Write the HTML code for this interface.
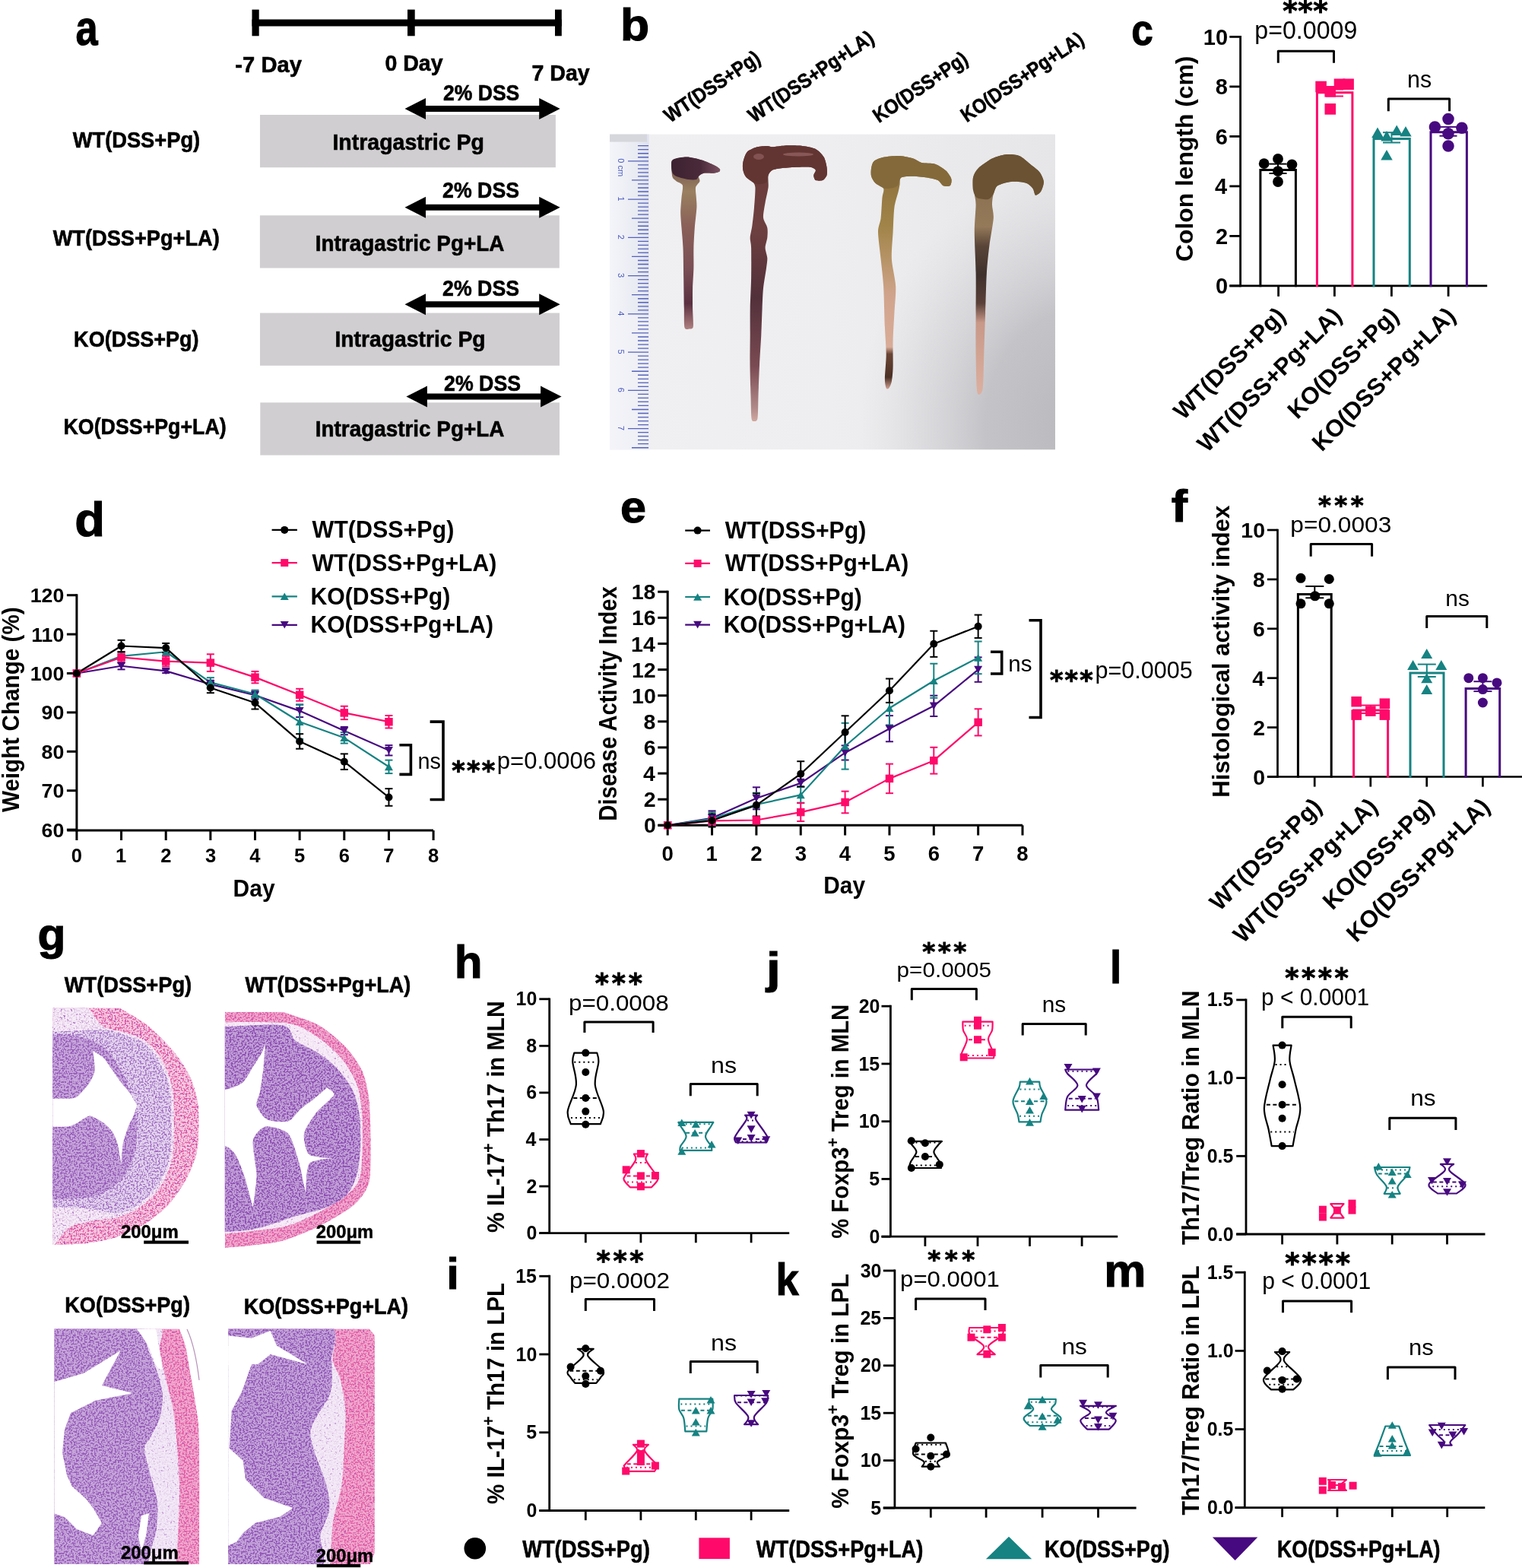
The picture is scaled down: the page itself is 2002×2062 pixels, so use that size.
<!DOCTYPE html>
<html><head><meta charset="utf-8"><title>Figure</title>
<style>html,body{margin:0;padding:0;background:#fff;}svg{display:block;}
text{font-family:'Liberation Sans', Arial, sans-serif;}</style></head>
<body><svg width="2002" height="2062" viewBox="0 0 2002 2062">
<rect width="2002" height="2062" fill="#fff"/>
<text x="99.48" y="58.85" font-size="64.78" font-weight="bold" fill="#000" textLength="29.16" lengthAdjust="spacingAndGlyphs" stroke="#000" stroke-width="1.1">a</text>
<rect x="331.5" y="25.5" width="407.3" height="9" fill="#000"/>
<rect x="331.5" y="12.6" width="9.2" height="34.7" fill="#000"/>
<rect x="536" y="12.6" width="9.7" height="34.7" fill="#000"/>
<rect x="730" y="12.6" width="8.8" height="34.7" fill="#000"/>
<text x="309.36" y="94.6" font-size="30.09" font-weight="bold" fill="#000" textLength="87.5" lengthAdjust="spacingAndGlyphs" stroke="#000" stroke-width="0.6">-7 Day</text>
<text x="506.49" y="93.3" font-size="30.09" font-weight="bold" fill="#000" textLength="76.07" lengthAdjust="spacingAndGlyphs" stroke="#000" stroke-width="0.6">0 Day</text>
<text x="699.5" y="106.4" font-size="30.09" font-weight="bold" fill="#000" textLength="76.26" lengthAdjust="spacingAndGlyphs" stroke="#000" stroke-width="0.6">7 Day</text>
<rect x="342" y="151" width="388.9" height="69.2" fill="#d0ced0"/>
<rect x="341.9" y="283.3" width="393.9" height="69.2" fill="#d0ced0"/>
<rect x="342" y="411.6" width="394" height="69.2" fill="#d0ced0"/>
<rect x="342.3" y="529.4" width="393.7" height="69.2" fill="#d0ced0"/>
<text x="95.77" y="194.4" font-size="30.09" font-weight="bold" fill="#000" textLength="167.36" lengthAdjust="spacingAndGlyphs" stroke="#000" stroke-width="0.6">WT(DSS+Pg)</text>
<text x="69.67" y="322.5" font-size="30.09" font-weight="bold" fill="#000" textLength="219.15" lengthAdjust="spacingAndGlyphs" stroke="#000" stroke-width="0.6">WT(DSS+Pg+LA)</text>
<text x="97.12" y="456.3" font-size="30.09" font-weight="bold" fill="#000" textLength="164.51" lengthAdjust="spacingAndGlyphs" stroke="#000" stroke-width="0.6">KO(DSS+Pg)</text>
<text x="83.53" y="571.4" font-size="30.09" font-weight="bold" fill="#000" textLength="214.18" lengthAdjust="spacingAndGlyphs" stroke="#000" stroke-width="0.6">KO(DSS+Pg+LA)</text>
<text x="437.42" y="197" font-size="30.09" font-weight="bold" fill="#000" textLength="199.49" lengthAdjust="spacingAndGlyphs" stroke="#000" stroke-width="0.6">Intragastric Pg</text>
<text x="414.76" y="330.3" font-size="30.09" font-weight="bold" fill="#000" textLength="248.66" lengthAdjust="spacingAndGlyphs" stroke="#000" stroke-width="0.6">Intragastric Pg+LA</text>
<text x="440.43" y="456.3" font-size="30.09" font-weight="bold" fill="#000" textLength="198.16" lengthAdjust="spacingAndGlyphs" stroke="#000" stroke-width="0.6">Intragastric Pg</text>
<text x="414.76" y="574" font-size="30.09" font-weight="bold" fill="#000" textLength="248.66" lengthAdjust="spacingAndGlyphs" stroke="#000" stroke-width="0.6">Intragastric Pg+LA</text>
<text x="582.9" y="132.2" font-size="30.09" font-weight="bold" fill="#000" textLength="100.45" lengthAdjust="spacingAndGlyphs" stroke="#000" stroke-width="0.6">2% DSS</text>
<text x="582.09" y="260.3" font-size="30.09" font-weight="bold" fill="#000" textLength="100.96" lengthAdjust="spacingAndGlyphs" stroke="#000" stroke-width="0.6">2% DSS</text>
<text x="582.09" y="388.7" font-size="30.09" font-weight="bold" fill="#000" textLength="100.96" lengthAdjust="spacingAndGlyphs" stroke="#000" stroke-width="0.6">2% DSS</text>
<text x="584.09" y="513.9" font-size="30.09" font-weight="bold" fill="#000" textLength="100.96" lengthAdjust="spacingAndGlyphs" stroke="#000" stroke-width="0.6">2% DSS</text>
<polygon points="532.5,143 560,129 560,139 709.2,139 709.2,129 736.7,143 709.2,157 709.2,147 560,147 560,157" fill="#000"/>
<polygon points="532.5,272.8 560,258.8 560,268.8 709.2,268.8 709.2,258.8 736.7,272.8 709.2,286.8 709.2,276.8 560,276.8 560,286.8" fill="#000"/>
<polygon points="532.5,400.3 560,386.3 560,396.3 709.2,396.3 709.2,386.3 736.7,400.3 709.2,414.3 709.2,404.3 560,404.3 560,414.3" fill="#000"/>
<polygon points="534.4,521.6 561.9,507.6 561.9,517.6 711.1,517.6 711.1,507.6 738.6,521.6 711.1,535.6 711.1,525.6 561.9,525.6 561.9,535.6" fill="#000"/>
<text x="815.95" y="52.91" font-size="59.18" font-weight="bold" fill="#000" textLength="38.1" lengthAdjust="spacingAndGlyphs" stroke="#000" stroke-width="1.1">b</text>
<text x="881.18" y="162" font-size="26.7" font-weight="bold" fill="#000" textLength="145.78" lengthAdjust="spacingAndGlyphs" transform="rotate(-34 881.2 162)" stroke="#000" stroke-width="0.6">WT(DSS+Pg)</text>
<text x="991.78" y="162" font-size="26.7" font-weight="bold" fill="#000" textLength="192.69" lengthAdjust="spacingAndGlyphs" transform="rotate(-34 991.8 162)" stroke="#000" stroke-width="0.6">WT(DSS+Pg+LA)</text>
<text x="1155.64" y="161.4" font-size="26.7" font-weight="bold" fill="#000" textLength="143.72" lengthAdjust="spacingAndGlyphs" transform="rotate(-34 1157.2 161.4)" stroke="#000" stroke-width="0.6">KO(DSS+Pg)</text>
<text x="1271.35" y="160.6" font-size="26.7" font-weight="bold" fill="#000" textLength="188.21" lengthAdjust="spacingAndGlyphs" transform="rotate(-34 1272.9 160.6)" stroke="#000" stroke-width="0.6">KO(DSS+Pg+LA)</text>
<defs>
<linearGradient id="pbg" x1="0" y1="0" x2="1" y2="0">
<stop offset="0" stop-color="#f0f0f2"/><stop offset="0.5" stop-color="#eeeef0"/><stop offset="1" stop-color="#e6e6e9"/></linearGradient>
<radialGradient id="pdark" cx="1430" cy="560" r="300" gradientUnits="userSpaceOnUse" gradientTransform="translate(1430 560) scale(1.0 1.15) translate(-1430 -560)">
<stop offset="0" stop-color="#b8b8bc" stop-opacity="1"/><stop offset="0.45" stop-color="#c2c2c6" stop-opacity="0.95"/><stop offset="0.75" stop-color="#d0d0d4" stop-opacity="0.5"/><stop offset="1" stop-color="#dcdce0" stop-opacity="0"/></radialGradient>
<linearGradient id="ruler" x1="0" y1="0" x2="1" y2="0">
<stop offset="0" stop-color="#f4f5f9"/><stop offset="0.7" stop-color="#e9ebf3"/><stop offset="1" stop-color="#dfe2ee"/></linearGradient>
<linearGradient id="c1h" x1="0" y1="0" x2="1" y2="0"><stop offset="0" stop-color="#3d2230"/><stop offset="0.6" stop-color="#4a2a3a"/><stop offset="1" stop-color="#7a5060"/></linearGradient>
<linearGradient id="c1s" x1="0" y1="0" x2="0" y2="1"><stop offset="0" stop-color="#6a4a4a"/><stop offset="0.2" stop-color="#9a8060"/><stop offset="0.4" stop-color="#8a6058"/><stop offset="0.65" stop-color="#7a4e55"/><stop offset="0.85" stop-color="#5a3040"/><stop offset="1" stop-color="#b08080"/></linearGradient>
<linearGradient id="c2s" x1="0" y1="0" x2="0" y2="1"><stop offset="0" stop-color="#6a3a38"/><stop offset="0.3" stop-color="#6e4040"/><stop offset="0.55" stop-color="#52303a"/><stop offset="0.8" stop-color="#7a4a52"/><stop offset="0.95" stop-color="#b08888"/><stop offset="1" stop-color="#d0a8a0"/></linearGradient>
<linearGradient id="c3s" x1="0" y1="0" x2="0" y2="1"><stop offset="0" stop-color="#8a6c3a"/><stop offset="0.3" stop-color="#a08448"/><stop offset="0.45" stop-color="#b89468"/><stop offset="0.6" stop-color="#d0a48c"/><stop offset="0.82" stop-color="#d8ac98"/><stop offset="0.85" stop-color="#6a4535"/><stop offset="0.95" stop-color="#4a3025"/><stop offset="1" stop-color="#d0a090"/></linearGradient>
<linearGradient id="c4s" x1="0" y1="0" x2="0" y2="1"><stop offset="0" stop-color="#6a5232"/><stop offset="0.12" stop-color="#8a7050"/><stop offset="0.3" stop-color="#957a5a"/><stop offset="0.38" stop-color="#5a4538"/><stop offset="0.5" stop-color="#3e302c"/><stop offset="0.62" stop-color="#5a4038"/><stop offset="0.7" stop-color="#c89888"/><stop offset="1" stop-color="#dcb0a0"/></linearGradient>
</defs>
<rect x="802" y="176.6" width="586" height="414.6" fill="url(#pbg)"/>
<rect x="802" y="176.6" width="586" height="414.6" fill="url(#pdark)"/>
<rect x="802" y="176.6" width="51.6" height="414.6" fill="url(#ruler)"/>
<rect x="802" y="176.6" width="49" height="10" fill="#d6d7dc"/>
<rect x="802" y="415" width="51.6" height="176.2" fill="#f3f4f8" opacity="0.6"/>
<path d="M839 191.7H853M839 196.72H853M839 201.75H853M839 206.77H853M826 211.8H853M839 216.83H853M839 221.85H853M839 226.88H853M839 231.9H853M831 236.93H853M839 241.96H853M839 246.98H853M839 252.01H853M839 257.03H853M826 262.06H853M839 267.09H853M839 272.11H853M839 277.14H853M839 282.16H853M831 287.19H853M839 292.22H853M839 297.24H853M839 302.27H853M839 307.29H853M826 312.32H853M839 317.35H853M839 322.37H853M839 327.4H853M839 332.42H853M831 337.45H853M839 342.48H853M839 347.5H853M839 352.53H853M839 357.55H853M826 362.58H853M839 367.61H853M839 372.63H853M839 377.66H853M839 382.68H853M831 387.71H853M839 392.74H853M839 397.76H853M839 402.79H853M839 407.81H853M826 412.84H853M839 417.87H853M839 422.89H853M839 427.92H853M839 432.94H853M831 437.97H853M839 443H853M839 448.02H853M839 453.05H853M839 458.07H853M826 463.1H853M839 468.13H853M839 473.15H853M839 478.18H853M839 483.2H853M831 488.23H853M839 493.26H853M839 498.28H853M839 503.31H853M839 508.33H853M826 513.36H853M839 518.39H853M839 523.41H853M839 528.44H853M839 533.46H853M831 538.49H853M839 543.52H853M839 548.54H853M839 553.57H853M839 558.59H853M826 563.62H853M839 568.65H853M839 573.67H853M839 578.7H853M839 583.72H853M831 588.75H853" fill="none" stroke="#3a4ab0" stroke-width="1.3" opacity="0.85"/>
<text x="0" y="0" font-size="11" font-weight="normal" fill="#4a5ac0" transform="translate(813 208.3) rotate(90)">0 cm</text>
<text x="0" y="0" font-size="11" font-weight="normal" fill="#4a5ac0" transform="translate(813 258.56) rotate(90)">1</text>
<text x="0" y="0" font-size="11" font-weight="normal" fill="#4a5ac0" transform="translate(813 308.82) rotate(90)">2</text>
<text x="0" y="0" font-size="11" font-weight="normal" fill="#4a5ac0" transform="translate(813 359.08) rotate(90)">3</text>
<text x="0" y="0" font-size="11" font-weight="normal" fill="#4a5ac0" transform="translate(813 409.34) rotate(90)">4</text>
<text x="0" y="0" font-size="11" font-weight="normal" fill="#4a5ac0" transform="translate(813 459.6) rotate(90)">5</text>
<text x="0" y="0" font-size="11" font-weight="normal" fill="#4a5ac0" transform="translate(813 509.86) rotate(90)">6</text>
<text x="0" y="0" font-size="11" font-weight="normal" fill="#4a5ac0" transform="translate(813 560.12) rotate(90)">7</text>
<path d="M884.6 210.5 C887.25 208.73 898.08 206.5 903.2 206.5 C908.32 206.5 918.23 209.09 923 210.5 C927.77 211.91 935.81 215.51 939 217.1 C942.19 218.69 945.93 221.24 946.9 222.4 C947.87 223.56 946.3 225.8 946.3 225.8 C946.3 225.8 941.75 227.53 939 227.8 C936.25 228.07 928.35 227.28 925.7 227.8 C923.05 228.32 919.81 230.29 919.1 231.7 C918.39 233.11 920.93 236.45 920.4 238.4 C919.87 240.35 915.71 243.47 915.1 246.3 C914.49 249.13 915.63 256.05 915.8 259.6 C915.97 263.15 916.67 267.59 916.4 272.9 C916.13 278.21 914.33 292.33 913.8 299.4 C913.27 306.47 912.59 318.83 912.4 325.9 C912.21 332.97 912.57 345.32 912.4 352.4 C912.23 359.48 911.27 371.92 911.1 379 C910.93 386.08 911.01 398.78 911.1 405.5 C911.19 412.22 912.33 425.8 911.8 429.4 C911.27 433 908.61 432.33 907.1 432.5 C905.59 432.67 901.47 434.3 900.5 430.7 C899.53 427.1 899.97 414.17 899.8 405.5 C899.63 396.83 899.37 376.31 899.2 365.7 C899.03 355.09 898.86 334.74 898.5 325.9 C898.14 317.06 896.94 305.59 896.5 299.4 C896.06 293.21 895.2 284.81 895.2 279.5 C895.2 274.19 896.14 264.37 896.5 259.6 C896.86 254.83 898.78 246.53 897.9 243.7 C897.02 240.87 891.67 239.83 889.9 238.4 C888.13 236.97 885.48 235.48 884.6 233 C883.72 230.52 883.3 222.8 883.3 219.8 C883.3 216.8 881.95 212.27 884.6 210.5 Z" fill="url(#c1s)" stroke="none" stroke-width="0"/>
<path d="M884.6 210.5 C887.16 207.9 898.08 206.5 903.2 206.5 C908.32 206.5 918.23 209.09 923 210.5 C927.77 211.91 935.81 215.51 939 217.1 C942.19 218.69 945.93 221.24 946.9 222.4 C947.87 223.56 946.3 225.8 946.3 225.8 C946.3 225.8 941.75 227.53 939 227.8 C936.25 228.07 928.35 227.28 925.7 227.8 C923.05 228.32 920.39 230.61 919.1 231.7 C917.81 232.79 917.88 235.43 916 236 C914.12 236.57 908.47 236.53 905 236 C901.53 235.47 892.8 233.33 890 232 C887.2 230.67 884.72 228.87 884 226 C883.28 223.13 882.04 213.1 884.6 210.5 Z" fill="url(#c1h)" stroke="none" stroke-width="0"/>
<path d="M977.4 213.2 C978.11 210.01 980.22 202.55 982.7 199.9 C985.18 197.25 992.45 194.37 996 193.3 C999.55 192.23 1006.65 191.9 1009.3 191.9 C1011.95 191.9 1014.14 193.21 1015.9 193.3 C1017.66 193.39 1019.85 192.87 1022.5 192.6 C1025.15 192.33 1031.37 191.39 1035.8 191.3 C1040.23 191.21 1050.75 191.29 1055.7 191.9 C1060.65 192.51 1069.18 193.95 1072.9 195.9 C1076.62 197.85 1081.65 203.31 1083.6 206.5 C1085.55 209.69 1086.98 216.61 1087.5 219.8 C1088.02 222.99 1088.21 228.11 1087.5 230.4 C1086.79 232.69 1084.15 236.12 1082.2 237 C1080.25 237.88 1074.49 237.88 1072.9 237 C1071.31 236.12 1070.3 232.16 1070.3 230.4 C1070.3 228.64 1073.43 225.21 1072.9 223.8 C1072.37 222.39 1069.47 220.33 1066.3 219.8 C1063.13 219.27 1054.05 219.63 1049.1 219.8 C1044.15 219.97 1033.63 220.57 1029.2 221.1 C1024.77 221.63 1018.38 222.56 1015.9 223.8 C1013.42 225.04 1011.31 227.4 1010.6 230.4 C1009.89 233.4 1011.13 241.53 1010.6 246.3 C1010.07 251.07 1007.48 260.89 1006.6 266.2 C1005.72 271.51 1003.64 281.67 1004 286.1 C1004.36 290.53 1008.59 295.87 1009.3 299.4 C1010.01 302.93 1009.66 309.07 1009.3 312.6 C1008.94 316.13 1006.6 322.35 1006.6 325.9 C1006.6 329.45 1009.11 335.67 1009.3 339.2 C1009.49 342.73 1008.71 347.09 1008 352.4 C1007.29 357.71 1004.72 371.92 1004 379 C1003.28 386.08 1002.96 397.37 1002.6 405.5 C1002.24 413.63 1001.78 430.07 1001.3 440 C1000.82 449.93 999.51 469.33 999 480 C998.49 490.67 997.83 510.67 997.5 520 C997.17 529.33 997.23 545.47 996.5 550 C995.77 554.53 993.07 554 992 554 C990.93 554 989.1 554.53 988.5 550 C987.9 545.47 987.77 529.33 987.5 520 C987.23 510.67 986.61 490.67 986.5 480 C986.39 469.33 986.67 449.93 986.7 440 C986.73 430.07 986.51 415.41 986.7 405.5 C986.89 395.59 987.91 376.31 988.1 365.7 C988.29 355.09 988.29 332.98 988.1 325.9 C987.91 318.82 986.53 316.49 986.7 312.6 C986.87 308.71 988.69 301.99 989.4 296.7 C990.11 291.41 991.47 279.62 992 272.9 C992.53 266.18 993.75 250.9 993.4 246.3 C993.05 241.7 991 240.17 989.4 238.4 C987.8 236.63 983 234.95 981.4 233 C979.8 231.05 977.93 226.44 977.4 223.8 C976.87 221.16 976.69 216.39 977.4 213.2 Z" fill="url(#c2s)" stroke="none" stroke-width="0"/>
<path d="M977.4 213.2 C978.11 210.01 980.22 202.55 982.7 199.9 C985.18 197.25 992.45 194.37 996 193.3 C999.55 192.23 1006.65 191.9 1009.3 191.9 C1011.95 191.9 1014.14 193.21 1015.9 193.3 C1017.66 193.39 1019.85 192.87 1022.5 192.6 C1025.15 192.33 1031.37 191.39 1035.8 191.3 C1040.23 191.21 1050.75 191.29 1055.7 191.9 C1060.65 192.51 1069.18 193.95 1072.9 195.9 C1076.62 197.85 1081.65 203.31 1083.6 206.5 C1085.55 209.69 1086.98 216.61 1087.5 219.8 C1088.02 222.99 1088.21 228.11 1087.5 230.4 C1086.79 232.69 1084.15 236.12 1082.2 237 C1080.25 237.88 1074.49 237.88 1072.9 237 C1071.31 236.12 1070.3 232.16 1070.3 230.4 C1070.3 228.64 1073.43 225.21 1072.9 223.8 C1072.37 222.39 1069.47 220.33 1066.3 219.8 C1063.13 219.27 1054.05 219.63 1049.1 219.8 C1044.15 219.97 1033.63 220.57 1029.2 221.1 C1024.77 221.63 1018.38 222.56 1015.9 223.8 C1013.42 225.04 1011.65 228.24 1010.6 230.4 C1009.55 232.56 1010.08 238.45 1008 240 C1005.92 241.55 998.55 242.93 995 242 C991.45 241.07 983.75 235.43 981.4 233 C979.05 230.57 977.93 226.44 977.4 223.8 C976.87 221.16 976.69 216.39 977.4 213.2 Z" fill="#633532" stroke="none" stroke-width="0"/>
<ellipse cx="1050" cy="203" rx="20" ry="2.5" fill="#a07070" opacity="0.6"/>
<ellipse cx="998" cy="206" rx="7" ry="4" fill="#a07070" opacity="0.5"/>
<path d="M1146.1 221.1 C1146.57 218.47 1147.47 214.01 1149.6 212.1 C1151.73 210.19 1157.57 207.75 1162.1 206.8 C1166.63 205.85 1178.36 204.76 1183.6 205 C1188.84 205.24 1197.6 207.41 1201.4 208.6 C1205.2 209.79 1208.29 212.95 1212.1 213.9 C1215.91 214.85 1225.71 214.27 1230 215.7 C1234.29 217.13 1241.45 221.97 1244.3 224.6 C1247.15 227.23 1250.69 232.77 1251.4 235.4 C1252.11 238.03 1251.03 243.11 1249.6 244.3 C1248.17 245.49 1242.83 245.26 1240.7 244.3 C1238.57 243.34 1236.45 238.53 1233.6 237.1 C1230.75 235.67 1223.59 234.31 1219.3 233.6 C1215.01 232.89 1205.92 231.8 1201.4 231.8 C1196.88 231.8 1187.77 232.17 1185.4 233.6 C1183.03 235.03 1184.08 240.13 1183.6 242.5 C1183.12 244.87 1182.76 247.35 1181.8 251.4 C1180.84 255.45 1177.36 265.75 1176.4 272.9 C1175.44 280.05 1175.07 295.96 1174.6 305 C1174.13 314.04 1172.42 331.18 1172.9 340.7 C1173.38 350.22 1177.73 366.88 1178.2 376.4 C1178.67 385.92 1176.88 402.57 1176.4 412.1 C1175.92 421.63 1174.84 438.37 1174.6 447.9 C1174.36 457.43 1174.83 476.47 1174.6 483.6 C1174.37 490.73 1173.61 497.83 1172.9 501.4 C1172.19 504.97 1170.26 509.2 1169.3 510.4 C1168.34 511.6 1166.42 512.07 1165.7 510.4 C1164.98 508.73 1163.9 503.86 1163.9 497.9 C1163.9 491.94 1165.7 474.75 1165.7 465.7 C1165.7 456.65 1164.38 441.91 1163.9 430 C1163.42 418.09 1162.81 388.31 1162.1 376.4 C1161.39 364.49 1159.55 350.22 1158.6 340.7 C1157.65 331.18 1155 312.15 1155 305 C1155 297.85 1157.88 293.05 1158.6 287.1 C1159.32 281.15 1159.93 265.63 1160.4 260.4 C1160.87 255.17 1163.3 250.53 1162.1 247.9 C1160.9 245.27 1153.53 242.85 1151.4 240.7 C1149.27 238.55 1146.81 234.41 1146.1 231.8 C1145.39 229.19 1145.63 223.73 1146.1 221.1 Z" fill="url(#c3s)" stroke="none" stroke-width="0"/>
<path d="M1146.1 221.1 C1146.57 218.47 1147.47 214.01 1149.6 212.1 C1151.73 210.19 1157.57 207.75 1162.1 206.8 C1166.63 205.85 1178.36 204.76 1183.6 205 C1188.84 205.24 1197.6 207.41 1201.4 208.6 C1205.2 209.79 1208.29 212.95 1212.1 213.9 C1215.91 214.85 1225.71 214.27 1230 215.7 C1234.29 217.13 1241.45 221.97 1244.3 224.6 C1247.15 227.23 1250.69 232.77 1251.4 235.4 C1252.11 238.03 1251.03 243.11 1249.6 244.3 C1248.17 245.49 1242.83 245.26 1240.7 244.3 C1238.57 243.34 1236.45 238.53 1233.6 237.1 C1230.75 235.67 1223.59 234.31 1219.3 233.6 C1215.01 232.89 1205.92 231.8 1201.4 231.8 C1196.88 231.8 1188.25 231.84 1185.4 233.6 C1182.55 235.36 1182.72 243.08 1180 245 C1177.28 246.92 1168.81 248.57 1165 248 C1161.19 247.43 1153.92 242.86 1151.4 240.7 C1148.88 238.54 1146.81 234.41 1146.1 231.8 C1145.39 229.19 1145.63 223.73 1146.1 221.1 Z" fill="#84693a" stroke="none" stroke-width="0"/>
<path d="M1280 233.6 C1280.71 229.08 1283.77 224.43 1287.1 221.1 C1290.43 217.77 1300.23 210.99 1305 208.6 C1309.77 206.21 1318.14 203.68 1322.9 203.2 C1327.66 202.72 1336.42 203.33 1340.7 205 C1344.98 206.67 1351.43 212.85 1355 215.7 C1358.57 218.55 1365.11 223.31 1367.5 226.4 C1369.89 229.49 1372.66 235.57 1372.9 238.9 C1373.14 242.23 1370.74 249.01 1369.3 251.4 C1367.86 253.79 1363.53 257.27 1362.1 256.8 C1360.67 256.33 1360.27 250.05 1358.6 247.9 C1356.93 245.75 1353.41 241.9 1349.6 240.7 C1345.79 239.5 1335 238.42 1330 238.9 C1325 239.38 1315.19 242.15 1312.1 244.3 C1309.01 246.45 1307.75 251.67 1306.8 255 C1305.85 258.33 1305 265.02 1305 269.3 C1305 273.58 1307.28 279.95 1306.8 287.1 C1306.32 294.25 1302.59 313.37 1301.4 322.9 C1300.21 332.43 1298.61 346.71 1297.9 358.6 C1297.19 370.49 1296.58 397.82 1296.1 412.1 C1295.62 426.38 1294.78 452.37 1294.3 465.7 C1293.82 479.03 1293.69 505.43 1292.5 512.1 C1291.31 518.77 1286.59 521.89 1285.4 515.7 C1284.21 509.51 1283.84 479.51 1283.6 465.7 C1283.36 451.89 1283.6 426.38 1283.6 412.1 C1283.6 397.82 1283.84 372.88 1283.6 358.6 C1283.36 344.32 1281.8 316.91 1281.8 305 C1281.8 293.09 1283.6 275.97 1283.6 269.3 C1283.6 262.63 1282.28 259.76 1281.8 255 C1281.32 250.24 1279.29 238.12 1280 233.6 Z" fill="url(#c4s)" stroke="none" stroke-width="0"/>
<path d="M1280 233.6 C1280.95 229.75 1283.77 224.43 1287.1 221.1 C1290.43 217.77 1300.23 210.99 1305 208.6 C1309.77 206.21 1318.14 203.68 1322.9 203.2 C1327.66 202.72 1336.42 203.33 1340.7 205 C1344.98 206.67 1351.43 212.85 1355 215.7 C1358.57 218.55 1365.11 223.31 1367.5 226.4 C1369.89 229.49 1372.66 235.57 1372.9 238.9 C1373.14 242.23 1370.74 249.01 1369.3 251.4 C1367.86 253.79 1363.53 257.27 1362.1 256.8 C1360.67 256.33 1360.27 250.05 1358.6 247.9 C1356.93 245.75 1353.41 241.9 1349.6 240.7 C1345.79 239.5 1335 238.42 1330 238.9 C1325 239.38 1315.19 242.15 1312.1 244.3 C1309.01 246.45 1308.41 252.64 1306.8 255 C1305.19 257.36 1302.91 261.33 1300 262 C1297.09 262.67 1287.67 261.6 1285 260 C1282.33 258.4 1280.67 253.52 1280 250 C1279.33 246.48 1279.05 237.45 1280 233.6 Z" fill="#6a5232" stroke="none" stroke-width="0"/>
<text x="1488.19" y="58.93" font-size="57.48" font-weight="bold" fill="#000" textLength="28.61" lengthAdjust="spacingAndGlyphs" stroke="#000" stroke-width="1.1">c</text>
<line x1="1631.6" y1="47" x2="1631.6" y2="377.3" stroke="#000" stroke-width="2.8"/>
<line x1="1617.3" y1="375.9" x2="1631.6" y2="375.9" stroke="#000" stroke-width="2.8"/>
<text x="1598.94" y="386.17" font-size="29" font-weight="bold" fill="#000">0</text>
<line x1="1617.3" y1="310.4" x2="1631.6" y2="310.4" stroke="#000" stroke-width="2.8"/>
<text x="1598.91" y="320.67" font-size="29" font-weight="bold" fill="#000">2</text>
<line x1="1617.3" y1="244.9" x2="1631.6" y2="244.9" stroke="#000" stroke-width="2.8"/>
<text x="1597.92" y="255.17" font-size="29" font-weight="bold" fill="#000">4</text>
<line x1="1617.3" y1="179.4" x2="1631.6" y2="179.4" stroke="#000" stroke-width="2.8"/>
<text x="1598.79" y="189.67" font-size="29" font-weight="bold" fill="#000">6</text>
<line x1="1617.3" y1="113.9" x2="1631.6" y2="113.9" stroke="#000" stroke-width="2.8"/>
<text x="1598.65" y="124.17" font-size="29" font-weight="bold" fill="#000">8</text>
<line x1="1617.3" y1="48.4" x2="1631.6" y2="48.4" stroke="#000" stroke-width="2.8"/>
<text x="1582.81" y="58.67" font-size="29" font-weight="bold" fill="#000">10</text>
<line x1="1617.3" y1="375.9" x2="1956.2" y2="375.9" stroke="#000" stroke-width="2.8"/>
<line x1="1681.6" y1="375.9" x2="1681.6" y2="389.8" stroke="#000" stroke-width="2.8"/>
<line x1="1755.4" y1="375.9" x2="1755.4" y2="389.8" stroke="#000" stroke-width="2.8"/>
<line x1="1830.4" y1="375.9" x2="1830.4" y2="389.8" stroke="#000" stroke-width="2.8"/>
<line x1="1905.1" y1="375.9" x2="1905.1" y2="389.8" stroke="#000" stroke-width="2.8"/>
<path d="M1657.9 377.3 V223.4 H1704.4 V377.3" fill="none" stroke="#000000" stroke-width="3"/>
<path d="M1732.4 377.3 V121.7 H1778.9 V377.3" fill="none" stroke="#FF0A6A" stroke-width="3"/>
<path d="M1807 377.3 V182.5 H1854.3 V377.3" fill="none" stroke="#168282" stroke-width="3"/>
<path d="M1882 377.3 V173.7 H1929.4 V377.3" fill="none" stroke="#47097F" stroke-width="3"/>
<line x1="1681" y1="215.6" x2="1681" y2="228" stroke="#000000" stroke-width="2"/>
<line x1="1669.5" y1="215.6" x2="1692.5" y2="215.6" stroke="#000000" stroke-width="2"/>
<line x1="1669.5" y1="228" x2="1692.5" y2="228" stroke="#000000" stroke-width="2"/>
<line x1="1755.5" y1="117.5" x2="1755.5" y2="126.5" stroke="#FF0A6A" stroke-width="2"/>
<line x1="1744" y1="117.5" x2="1767" y2="117.5" stroke="#FF0A6A" stroke-width="2"/>
<line x1="1744" y1="126.5" x2="1767" y2="126.5" stroke="#FF0A6A" stroke-width="2"/>
<line x1="1830.5" y1="174.2" x2="1830.5" y2="187.5" stroke="#168282" stroke-width="2"/>
<line x1="1819" y1="174.2" x2="1842" y2="174.2" stroke="#168282" stroke-width="2"/>
<line x1="1819" y1="187.5" x2="1842" y2="187.5" stroke="#168282" stroke-width="2"/>
<line x1="1905" y1="166.9" x2="1905" y2="178.7" stroke="#47097F" stroke-width="2"/>
<line x1="1893.5" y1="166.9" x2="1916.5" y2="166.9" stroke="#47097F" stroke-width="2"/>
<line x1="1893.5" y1="178.7" x2="1916.5" y2="178.7" stroke="#47097F" stroke-width="2"/>
<circle cx="1681" cy="208.9" r="6.9" fill="#000000"/>
<circle cx="1662.7" cy="215.2" r="6.9" fill="#000000"/>
<circle cx="1699.4" cy="216.4" r="6.9" fill="#000000"/>
<circle cx="1681" cy="225.1" r="6.9" fill="#000000"/>
<circle cx="1681" cy="239" r="6.9" fill="#000000"/>
<rect x="1730.3" y="106.7" width="14.6" height="14.6" fill="#FF0A6A"/>
<rect x="1742.4" y="113" width="14.6" height="14.6" fill="#FF0A6A"/>
<rect x="1754.7" y="103.5" width="14.6" height="14.6" fill="#FF0A6A"/>
<rect x="1766.3" y="103.5" width="14.6" height="14.6" fill="#FF0A6A"/>
<rect x="1742.5" y="136.1" width="14.6" height="14.6" fill="#FF0A6A"/>
<polygon points="1804.25,180.94 1819.75,180.94 1812,167.46" fill="#168282"/>
<polygon points="1816.25,185.44 1831.75,185.44 1824,171.96" fill="#168282"/>
<polygon points="1829.45,178.04 1844.95,178.04 1837.2,164.56" fill="#168282"/>
<polygon points="1841.25,179.54 1856.75,179.54 1849,166.06" fill="#168282"/>
<polygon points="1816.25,210.54 1831.75,210.54 1824,197.06" fill="#168282"/>
<circle cx="1905" cy="156.5" r="7.75" fill="#47097F"/>
<circle cx="1887.4" cy="166.9" r="7.75" fill="#47097F"/>
<circle cx="1922.9" cy="168.3" r="7.75" fill="#47097F"/>
<circle cx="1905" cy="175.7" r="7.75" fill="#47097F"/>
<circle cx="1905" cy="192" r="7.75" fill="#47097F"/>
<path d="M1681.3 82.7 V67.3 H1754.5 V82.7" fill="none" stroke="#000" stroke-width="3" stroke-linejoin="round"/>
<path d="M1826.3 146.2 V130 H1906.6 V146.2" fill="none" stroke="#000" stroke-width="3" stroke-linejoin="round"/>
<text x="1650.34" y="50.9" font-size="33.24" font-weight="normal" fill="#000" textLength="134.96" lengthAdjust="spacingAndGlyphs">p=0.0009</text>
<text x="1687.15" y="27.17" font-size="37.28" font-weight="bold" stroke="#000" stroke-width="0.9" style="font-family:'DejaVu Sans',sans-serif">*</text>
<text x="1707.25" y="27.17" font-size="37.28" font-weight="bold" stroke="#000" stroke-width="0.9" style="font-family:'DejaVu Sans',sans-serif">*</text>
<text x="1727.35" y="27.17" font-size="37.28" font-weight="bold" stroke="#000" stroke-width="0.9" style="font-family:'DejaVu Sans',sans-serif">*</text>
<text x="1850.99" y="115.2" font-size="30.68" font-weight="normal" fill="#000" textLength="32.11" lengthAdjust="spacingAndGlyphs">ns</text>
<text x="-1.3" y="0" font-size="31.8" font-weight="bold" fill="#000" textLength="270.16" lengthAdjust="spacingAndGlyphs" transform="translate(1569.1 342.6) rotate(-90)">Colon length (cm)</text>
<text x="1556.47" y="553.59" font-size="31.4" font-weight="bold" fill="#000" textLength="192.76" lengthAdjust="spacingAndGlyphs" transform="rotate(-45 1556.51 553.59)">WT(DSS+Pg)</text>
<text x="1587.71" y="596.16" font-size="31.4" font-weight="bold" fill="#000" textLength="252.95" lengthAdjust="spacingAndGlyphs" transform="rotate(-45 1587.74 596.16)">WT(DSS+Pg+LA)</text>
<text x="1705.9" y="550.93" font-size="31.4" font-weight="bold" fill="#000" textLength="191.04" lengthAdjust="spacingAndGlyphs" transform="rotate(-45 1707.97 550.93)">KO(DSS+Pg)</text>
<text x="1738.03" y="593.49" font-size="31.4" font-weight="bold" fill="#000" textLength="251.23" lengthAdjust="spacingAndGlyphs" transform="rotate(-45 1740.11 593.49)">KO(DSS+Pg+LA)</text>
<text x="98.23" y="704.87" font-size="63.27" font-weight="bold" fill="#000" textLength="39.75" lengthAdjust="spacingAndGlyphs" stroke="#000" stroke-width="1.1">d</text>
<line x1="100.9" y1="781.2" x2="100.9" y2="1093.5" stroke="#000" stroke-width="3"/>
<line x1="87.9" y1="1091.1" x2="100.9" y2="1091.1" stroke="#000" stroke-width="3"/>
<text x="54.58" y="1100.55" font-size="26.7" font-weight="bold" fill="#000">60</text>
<line x1="87.9" y1="1039.7" x2="100.9" y2="1039.7" stroke="#000" stroke-width="3"/>
<text x="54.58" y="1049.15" font-size="26.7" font-weight="bold" fill="#000">70</text>
<line x1="87.9" y1="988.3" x2="100.9" y2="988.3" stroke="#000" stroke-width="3"/>
<text x="54.58" y="997.75" font-size="26.7" font-weight="bold" fill="#000">80</text>
<line x1="87.9" y1="936.9" x2="100.9" y2="936.9" stroke="#000" stroke-width="3"/>
<text x="54.58" y="946.35" font-size="26.7" font-weight="bold" fill="#000">90</text>
<line x1="87.9" y1="885.5" x2="100.9" y2="885.5" stroke="#000" stroke-width="3"/>
<text x="39.73" y="894.95" font-size="26.7" font-weight="bold" fill="#000">100</text>
<line x1="87.9" y1="834.1" x2="100.9" y2="834.1" stroke="#000" stroke-width="3"/>
<text x="41.2" y="843.55" font-size="26.7" font-weight="bold" fill="#000">110</text>
<line x1="87.9" y1="782.7" x2="100.9" y2="782.7" stroke="#000" stroke-width="3"/>
<text x="39.73" y="792.15" font-size="26.7" font-weight="bold" fill="#000">120</text>
<line x1="88.3" y1="1092" x2="570" y2="1092" stroke="#000" stroke-width="3"/>
<line x1="100.9" y1="1092" x2="100.9" y2="1105" stroke="#000" stroke-width="3"/>
<text x="93.81" y="1134.34" font-size="25.56" font-weight="bold" fill="#000">0</text>
<line x1="159.55" y1="1092" x2="159.55" y2="1105" stroke="#000" stroke-width="3"/>
<text x="152" y="1134.34" font-size="25.56" font-weight="bold" fill="#000">1</text>
<line x1="218.2" y1="1092" x2="218.2" y2="1105" stroke="#000" stroke-width="3"/>
<text x="211.16" y="1134.34" font-size="25.56" font-weight="bold" fill="#000">2</text>
<line x1="276.85" y1="1092" x2="276.85" y2="1105" stroke="#000" stroke-width="3"/>
<text x="269.91" y="1134.34" font-size="25.56" font-weight="bold" fill="#000">3</text>
<line x1="335.5" y1="1092" x2="335.5" y2="1105" stroke="#000" stroke-width="3"/>
<text x="328.27" y="1134.34" font-size="25.56" font-weight="bold" fill="#000">4</text>
<line x1="394.15" y1="1092" x2="394.15" y2="1105" stroke="#000" stroke-width="3"/>
<text x="387" y="1134.34" font-size="25.56" font-weight="bold" fill="#000">5</text>
<line x1="452.8" y1="1092" x2="452.8" y2="1105" stroke="#000" stroke-width="3"/>
<text x="445.68" y="1134.34" font-size="25.56" font-weight="bold" fill="#000">6</text>
<line x1="511.45" y1="1092" x2="511.45" y2="1105" stroke="#000" stroke-width="3"/>
<text x="504.36" y="1134.34" font-size="25.56" font-weight="bold" fill="#000">7</text>
<line x1="570.1" y1="1092" x2="570.1" y2="1105" stroke="#000" stroke-width="3"/>
<text x="562.98" y="1134.34" font-size="25.56" font-weight="bold" fill="#000">8</text>
<text x="306.62" y="1178.7" font-size="30.81" font-weight="bold" fill="#000" textLength="54.94" lengthAdjust="spacingAndGlyphs">Day</text>
<text x="-0.03" y="0" font-size="32.1" font-weight="bold" fill="#000" textLength="269.79" lengthAdjust="spacingAndGlyphs" transform="translate(24.5 1068.1) rotate(-90)">Weight Change (%)</text>
<polyline points="100.9,885.5 159.55,875.73 218.2,882.42 276.85,899.89 335.5,914.28 394.15,934.84 452.8,961.06 511.45,986.76" fill="none" stroke="#47097F" stroke-width="2.2" stroke-linejoin="round"/>
<polyline points="100.9,885.5 159.55,862.88 218.2,857.23 276.85,897.32 335.5,912.74 394.15,949.24 452.8,970.31 511.45,1008.35" fill="none" stroke="#168282" stroke-width="2.2" stroke-linejoin="round"/>
<polyline points="100.9,885.5 159.55,864.43 218.2,869.57 276.85,871.62 335.5,890.64 394.15,913.77 452.8,937.41 511.45,949.24" fill="none" stroke="#FF0A6A" stroke-width="2.2" stroke-linejoin="round"/>
<polyline points="100.9,885.5 159.55,849.52 218.2,852.09 276.85,904.52 335.5,924.31 394.15,974.94 452.8,1001.66 511.45,1048.44" fill="none" stroke="#000000" stroke-width="2.2" stroke-linejoin="round"/>
<line x1="159.55" y1="871.11" x2="159.55" y2="880.36" stroke="#47097F" stroke-width="2"/>
<line x1="154.55" y1="871.11" x2="164.55" y2="871.11" stroke="#47097F" stroke-width="2"/>
<line x1="154.55" y1="880.36" x2="164.55" y2="880.36" stroke="#47097F" stroke-width="2"/>
<line x1="218.2" y1="879.85" x2="218.2" y2="884.99" stroke="#47097F" stroke-width="2"/>
<line x1="213.2" y1="879.85" x2="223.2" y2="879.85" stroke="#47097F" stroke-width="2"/>
<line x1="213.2" y1="884.99" x2="223.2" y2="884.99" stroke="#47097F" stroke-width="2"/>
<line x1="276.85" y1="894.75" x2="276.85" y2="905.03" stroke="#47097F" stroke-width="2"/>
<line x1="271.85" y1="894.75" x2="281.85" y2="894.75" stroke="#47097F" stroke-width="2"/>
<line x1="271.85" y1="905.03" x2="281.85" y2="905.03" stroke="#47097F" stroke-width="2"/>
<line x1="335.5" y1="909.14" x2="335.5" y2="919.42" stroke="#47097F" stroke-width="2"/>
<line x1="330.5" y1="909.14" x2="340.5" y2="909.14" stroke="#47097F" stroke-width="2"/>
<line x1="330.5" y1="919.42" x2="340.5" y2="919.42" stroke="#47097F" stroke-width="2"/>
<line x1="394.15" y1="926.62" x2="394.15" y2="943.07" stroke="#47097F" stroke-width="2"/>
<line x1="389.15" y1="926.62" x2="399.15" y2="926.62" stroke="#47097F" stroke-width="2"/>
<line x1="389.15" y1="943.07" x2="399.15" y2="943.07" stroke="#47097F" stroke-width="2"/>
<line x1="452.8" y1="955.92" x2="452.8" y2="966.2" stroke="#47097F" stroke-width="2"/>
<line x1="447.8" y1="955.92" x2="457.8" y2="955.92" stroke="#47097F" stroke-width="2"/>
<line x1="447.8" y1="966.2" x2="457.8" y2="966.2" stroke="#47097F" stroke-width="2"/>
<line x1="511.45" y1="980.08" x2="511.45" y2="993.44" stroke="#47097F" stroke-width="2"/>
<line x1="506.45" y1="980.08" x2="516.45" y2="980.08" stroke="#47097F" stroke-width="2"/>
<line x1="506.45" y1="993.44" x2="516.45" y2="993.44" stroke="#47097F" stroke-width="2"/>
<line x1="159.55" y1="857.74" x2="159.55" y2="868.02" stroke="#168282" stroke-width="2"/>
<line x1="154.55" y1="857.74" x2="164.55" y2="857.74" stroke="#168282" stroke-width="2"/>
<line x1="154.55" y1="868.02" x2="164.55" y2="868.02" stroke="#168282" stroke-width="2"/>
<line x1="218.2" y1="852.09" x2="218.2" y2="862.37" stroke="#168282" stroke-width="2"/>
<line x1="213.2" y1="852.09" x2="223.2" y2="852.09" stroke="#168282" stroke-width="2"/>
<line x1="213.2" y1="862.37" x2="223.2" y2="862.37" stroke="#168282" stroke-width="2"/>
<line x1="276.85" y1="891.15" x2="276.85" y2="903.49" stroke="#168282" stroke-width="2"/>
<line x1="271.85" y1="891.15" x2="281.85" y2="891.15" stroke="#168282" stroke-width="2"/>
<line x1="271.85" y1="903.49" x2="281.85" y2="903.49" stroke="#168282" stroke-width="2"/>
<line x1="335.5" y1="907.6" x2="335.5" y2="917.88" stroke="#168282" stroke-width="2"/>
<line x1="330.5" y1="907.6" x2="340.5" y2="907.6" stroke="#168282" stroke-width="2"/>
<line x1="330.5" y1="917.88" x2="340.5" y2="917.88" stroke="#168282" stroke-width="2"/>
<line x1="394.15" y1="926.62" x2="394.15" y2="971.85" stroke="#168282" stroke-width="2"/>
<line x1="389.15" y1="926.62" x2="399.15" y2="926.62" stroke="#168282" stroke-width="2"/>
<line x1="389.15" y1="971.85" x2="399.15" y2="971.85" stroke="#168282" stroke-width="2"/>
<line x1="452.8" y1="963.11" x2="452.8" y2="977.51" stroke="#168282" stroke-width="2"/>
<line x1="447.8" y1="963.11" x2="457.8" y2="963.11" stroke="#168282" stroke-width="2"/>
<line x1="447.8" y1="977.51" x2="457.8" y2="977.51" stroke="#168282" stroke-width="2"/>
<line x1="511.45" y1="999.61" x2="511.45" y2="1017.08" stroke="#168282" stroke-width="2"/>
<line x1="506.45" y1="999.61" x2="516.45" y2="999.61" stroke="#168282" stroke-width="2"/>
<line x1="506.45" y1="1017.08" x2="516.45" y2="1017.08" stroke="#168282" stroke-width="2"/>
<line x1="159.55" y1="857.23" x2="159.55" y2="871.62" stroke="#FF0A6A" stroke-width="2"/>
<line x1="154.55" y1="857.23" x2="164.55" y2="857.23" stroke="#FF0A6A" stroke-width="2"/>
<line x1="154.55" y1="871.62" x2="164.55" y2="871.62" stroke="#FF0A6A" stroke-width="2"/>
<line x1="218.2" y1="862.88" x2="218.2" y2="876.25" stroke="#FF0A6A" stroke-width="2"/>
<line x1="213.2" y1="862.88" x2="223.2" y2="862.88" stroke="#FF0A6A" stroke-width="2"/>
<line x1="213.2" y1="876.25" x2="223.2" y2="876.25" stroke="#FF0A6A" stroke-width="2"/>
<line x1="276.85" y1="860.31" x2="276.85" y2="882.93" stroke="#FF0A6A" stroke-width="2"/>
<line x1="271.85" y1="860.31" x2="281.85" y2="860.31" stroke="#FF0A6A" stroke-width="2"/>
<line x1="271.85" y1="882.93" x2="281.85" y2="882.93" stroke="#FF0A6A" stroke-width="2"/>
<line x1="335.5" y1="882.93" x2="335.5" y2="898.35" stroke="#FF0A6A" stroke-width="2"/>
<line x1="330.5" y1="882.93" x2="340.5" y2="882.93" stroke="#FF0A6A" stroke-width="2"/>
<line x1="330.5" y1="898.35" x2="340.5" y2="898.35" stroke="#FF0A6A" stroke-width="2"/>
<line x1="394.15" y1="905.8" x2="394.15" y2="921.74" stroke="#FF0A6A" stroke-width="2"/>
<line x1="389.15" y1="905.8" x2="399.15" y2="905.8" stroke="#FF0A6A" stroke-width="2"/>
<line x1="389.15" y1="921.74" x2="399.15" y2="921.74" stroke="#FF0A6A" stroke-width="2"/>
<line x1="452.8" y1="928.68" x2="452.8" y2="946.15" stroke="#FF0A6A" stroke-width="2"/>
<line x1="447.8" y1="928.68" x2="457.8" y2="928.68" stroke="#FF0A6A" stroke-width="2"/>
<line x1="447.8" y1="946.15" x2="457.8" y2="946.15" stroke="#FF0A6A" stroke-width="2"/>
<line x1="511.45" y1="941.01" x2="511.45" y2="957.46" stroke="#FF0A6A" stroke-width="2"/>
<line x1="506.45" y1="941.01" x2="516.45" y2="941.01" stroke="#FF0A6A" stroke-width="2"/>
<line x1="506.45" y1="957.46" x2="516.45" y2="957.46" stroke="#FF0A6A" stroke-width="2"/>
<line x1="159.55" y1="841.81" x2="159.55" y2="857.23" stroke="#000000" stroke-width="2"/>
<line x1="154.55" y1="841.81" x2="164.55" y2="841.81" stroke="#000000" stroke-width="2"/>
<line x1="154.55" y1="857.23" x2="164.55" y2="857.23" stroke="#000000" stroke-width="2"/>
<line x1="218.2" y1="845.92" x2="218.2" y2="858.26" stroke="#000000" stroke-width="2"/>
<line x1="213.2" y1="845.92" x2="223.2" y2="845.92" stroke="#000000" stroke-width="2"/>
<line x1="213.2" y1="858.26" x2="223.2" y2="858.26" stroke="#000000" stroke-width="2"/>
<line x1="276.85" y1="897.84" x2="276.85" y2="911.2" stroke="#000000" stroke-width="2"/>
<line x1="271.85" y1="897.84" x2="281.85" y2="897.84" stroke="#000000" stroke-width="2"/>
<line x1="271.85" y1="911.2" x2="281.85" y2="911.2" stroke="#000000" stroke-width="2"/>
<line x1="335.5" y1="916.08" x2="335.5" y2="932.53" stroke="#000000" stroke-width="2"/>
<line x1="330.5" y1="916.08" x2="340.5" y2="916.08" stroke="#000000" stroke-width="2"/>
<line x1="330.5" y1="932.53" x2="340.5" y2="932.53" stroke="#000000" stroke-width="2"/>
<line x1="394.15" y1="965.17" x2="394.15" y2="984.7" stroke="#000000" stroke-width="2"/>
<line x1="389.15" y1="965.17" x2="399.15" y2="965.17" stroke="#000000" stroke-width="2"/>
<line x1="389.15" y1="984.7" x2="399.15" y2="984.7" stroke="#000000" stroke-width="2"/>
<line x1="452.8" y1="991.38" x2="452.8" y2="1011.94" stroke="#000000" stroke-width="2"/>
<line x1="447.8" y1="991.38" x2="457.8" y2="991.38" stroke="#000000" stroke-width="2"/>
<line x1="447.8" y1="1011.94" x2="457.8" y2="1011.94" stroke="#000000" stroke-width="2"/>
<line x1="511.45" y1="1037.13" x2="511.45" y2="1059.75" stroke="#000000" stroke-width="2"/>
<line x1="506.45" y1="1037.13" x2="516.45" y2="1037.13" stroke="#000000" stroke-width="2"/>
<line x1="506.45" y1="1059.75" x2="516.45" y2="1059.75" stroke="#000000" stroke-width="2"/>
<polygon points="95.4,880.72 106.4,880.72 100.9,890.28" fill="#47097F"/>
<polygon points="154.05,870.95 165.05,870.95 159.55,880.52" fill="#47097F"/>
<polygon points="212.7,877.63 223.7,877.63 218.2,887.2" fill="#47097F"/>
<polygon points="271.35,895.11 282.35,895.11 276.85,904.68" fill="#47097F"/>
<polygon points="330,909.5 341,909.5 335.5,919.07" fill="#47097F"/>
<polygon points="388.65,930.06 399.65,930.06 394.15,939.63" fill="#47097F"/>
<polygon points="447.3,956.27 458.3,956.27 452.8,965.84" fill="#47097F"/>
<polygon points="505.95,981.97 516.95,981.97 511.45,991.54" fill="#47097F"/>
<polygon points="95.4,890.28 106.4,890.28 100.9,880.72" fill="#168282"/>
<polygon points="154.05,867.67 165.05,867.67 159.55,858.1" fill="#168282"/>
<polygon points="212.7,862.01 223.7,862.01 218.2,852.45" fill="#168282"/>
<polygon points="271.35,902.11 282.35,902.11 276.85,892.54" fill="#168282"/>
<polygon points="330,917.53 341,917.53 335.5,907.96" fill="#168282"/>
<polygon points="388.65,954.02 399.65,954.02 394.15,944.45" fill="#168282"/>
<polygon points="447.3,975.09 458.3,975.09 452.8,965.52" fill="#168282"/>
<polygon points="505.95,1013.13 516.95,1013.13 511.45,1003.56" fill="#168282"/>
<rect x="95.65" y="880.25" width="10.5" height="10.5" fill="#FF0A6A"/>
<rect x="154.3" y="859.18" width="10.5" height="10.5" fill="#FF0A6A"/>
<rect x="212.95" y="864.32" width="10.5" height="10.5" fill="#FF0A6A"/>
<rect x="271.6" y="866.37" width="10.5" height="10.5" fill="#FF0A6A"/>
<rect x="330.25" y="885.39" width="10.5" height="10.5" fill="#FF0A6A"/>
<rect x="388.9" y="908.52" width="10.5" height="10.5" fill="#FF0A6A"/>
<rect x="447.55" y="932.16" width="10.5" height="10.5" fill="#FF0A6A"/>
<rect x="506.2" y="943.99" width="10.5" height="10.5" fill="#FF0A6A"/>
<circle cx="100.9" cy="885.5" r="5" fill="#000000"/>
<circle cx="159.55" cy="849.52" r="5" fill="#000000"/>
<circle cx="218.2" cy="852.09" r="5" fill="#000000"/>
<circle cx="276.85" cy="904.52" r="5" fill="#000000"/>
<circle cx="335.5" cy="924.31" r="5" fill="#000000"/>
<circle cx="394.15" cy="974.94" r="5" fill="#000000"/>
<circle cx="452.8" cy="1001.66" r="5" fill="#000000"/>
<circle cx="511.45" cy="1048.44" r="5" fill="#000000"/>
<line x1="357.6" y1="696.9" x2="390.9" y2="696.9" stroke="#000000" stroke-width="2.2"/>
<circle cx="374.25" cy="696.9" r="5" fill="#000000"/>
<text x="410.47" y="707.4" font-size="30.81" font-weight="bold" fill="#000" textLength="186.81" lengthAdjust="spacingAndGlyphs">WT(DSS+Pg)</text>
<line x1="357.6" y1="740.1" x2="390.9" y2="740.1" stroke="#FF0A6A" stroke-width="2.2"/>
<rect x="369.25" y="735.1" width="10" height="10" fill="#FF0A6A"/>
<text x="410.47" y="750.6" font-size="30.81" font-weight="bold" fill="#000" textLength="242.8" lengthAdjust="spacingAndGlyphs">WT(DSS+Pg+LA)</text>
<line x1="357.6" y1="784.3" x2="390.9" y2="784.3" stroke="#168282" stroke-width="2.2"/>
<polygon points="368.75,789.08 379.75,789.08 374.25,779.51" fill="#168282"/>
<text x="408.51" y="794.8" font-size="30.81" font-weight="bold" fill="#000" textLength="183.77" lengthAdjust="spacingAndGlyphs">KO(DSS+Pg)</text>
<line x1="357.6" y1="821.8" x2="390.9" y2="821.8" stroke="#47097F" stroke-width="2.2"/>
<polygon points="368.75,817.01 379.75,817.01 374.25,826.58" fill="#47097F"/>
<text x="408.52" y="832.3" font-size="30.81" font-weight="bold" fill="#000" textLength="240.56" lengthAdjust="spacingAndGlyphs">KO(DSS+Pg+LA)</text>
<path d="M525.4 979.8 H540.4 V1018.4 H525.4" fill="none" stroke="#000" stroke-width="3.6"/>
<path d="M565.6 949.1 H583 V1051.5 H565.6" fill="none" stroke="#000" stroke-width="3.6"/>
<text x="549.6" y="1010.6" font-size="29.92" font-weight="normal" fill="#000" textLength="30.44" lengthAdjust="spacingAndGlyphs">ns</text>
<text x="594.33" y="1025.29" font-size="33.41" font-weight="bold" stroke="#000" stroke-width="0.9" style="font-family:'DejaVu Sans',sans-serif">*</text>
<text x="614.01" y="1025.29" font-size="33.41" font-weight="bold" stroke="#000" stroke-width="0.9" style="font-family:'DejaVu Sans',sans-serif">*</text>
<text x="633.7" y="1025.29" font-size="33.41" font-weight="bold" stroke="#000" stroke-width="0.9" style="font-family:'DejaVu Sans',sans-serif">*</text>
<text x="653.82" y="1011" font-size="32.23" font-weight="normal" fill="#000" textLength="130.21" lengthAdjust="spacingAndGlyphs">p=0.0006</text>
<text x="815.92" y="687" font-size="60.04" font-weight="bold" fill="#000" textLength="33.97" lengthAdjust="spacingAndGlyphs" stroke="#000" stroke-width="1.1">e</text>
<line x1="878.2" y1="776.72" x2="878.2" y2="1086.8" stroke="#000" stroke-width="3"/>
<line x1="865.2" y1="1085.3" x2="878.2" y2="1085.3" stroke="#000" stroke-width="3"/>
<text x="846.89" y="1095.39" font-size="28.5" font-weight="bold" fill="#000">0</text>
<line x1="865.2" y1="1051.18" x2="878.2" y2="1051.18" stroke="#000" stroke-width="3"/>
<text x="846.87" y="1061.27" font-size="28.5" font-weight="bold" fill="#000">2</text>
<line x1="865.2" y1="1017.06" x2="878.2" y2="1017.06" stroke="#000" stroke-width="3"/>
<text x="845.9" y="1027.15" font-size="28.5" font-weight="bold" fill="#000">4</text>
<line x1="865.2" y1="982.94" x2="878.2" y2="982.94" stroke="#000" stroke-width="3"/>
<text x="846.75" y="993.03" font-size="28.5" font-weight="bold" fill="#000">6</text>
<line x1="865.2" y1="948.82" x2="878.2" y2="948.82" stroke="#000" stroke-width="3"/>
<text x="846.61" y="958.91" font-size="28.5" font-weight="bold" fill="#000">8</text>
<line x1="865.2" y1="914.7" x2="878.2" y2="914.7" stroke="#000" stroke-width="3"/>
<text x="831.05" y="924.79" font-size="28.5" font-weight="bold" fill="#000">10</text>
<line x1="865.2" y1="880.58" x2="878.2" y2="880.58" stroke="#000" stroke-width="3"/>
<text x="831.02" y="890.67" font-size="28.5" font-weight="bold" fill="#000">12</text>
<line x1="865.2" y1="846.46" x2="878.2" y2="846.46" stroke="#000" stroke-width="3"/>
<text x="830.05" y="856.55" font-size="28.5" font-weight="bold" fill="#000">14</text>
<line x1="865.2" y1="812.34" x2="878.2" y2="812.34" stroke="#000" stroke-width="3"/>
<text x="830.91" y="822.43" font-size="28.5" font-weight="bold" fill="#000">16</text>
<line x1="865.2" y1="778.22" x2="878.2" y2="778.22" stroke="#000" stroke-width="3"/>
<text x="830.76" y="788.31" font-size="28.5" font-weight="bold" fill="#000">18</text>
<line x1="865.6" y1="1085.3" x2="1345" y2="1085.3" stroke="#000" stroke-width="3"/>
<line x1="878.2" y1="1085.3" x2="878.2" y2="1098.5" stroke="#000" stroke-width="3"/>
<text x="870.56" y="1131.72" font-size="27.54" font-weight="bold" fill="#000">0</text>
<line x1="936.55" y1="1085.3" x2="936.55" y2="1098.5" stroke="#000" stroke-width="3"/>
<text x="928.41" y="1131.72" font-size="27.54" font-weight="bold" fill="#000">1</text>
<line x1="994.9" y1="1085.3" x2="994.9" y2="1098.5" stroke="#000" stroke-width="3"/>
<text x="987.31" y="1131.72" font-size="27.54" font-weight="bold" fill="#000">2</text>
<line x1="1053.25" y1="1085.3" x2="1053.25" y2="1098.5" stroke="#000" stroke-width="3"/>
<text x="1045.77" y="1131.72" font-size="27.54" font-weight="bold" fill="#000">3</text>
<line x1="1111.6" y1="1085.3" x2="1111.6" y2="1098.5" stroke="#000" stroke-width="3"/>
<text x="1103.81" y="1131.72" font-size="27.54" font-weight="bold" fill="#000">4</text>
<line x1="1169.95" y1="1085.3" x2="1169.95" y2="1098.5" stroke="#000" stroke-width="3"/>
<text x="1162.25" y="1131.72" font-size="27.54" font-weight="bold" fill="#000">5</text>
<line x1="1228.3" y1="1085.3" x2="1228.3" y2="1098.5" stroke="#000" stroke-width="3"/>
<text x="1220.63" y="1131.72" font-size="27.54" font-weight="bold" fill="#000">6</text>
<line x1="1286.65" y1="1085.3" x2="1286.65" y2="1098.5" stroke="#000" stroke-width="3"/>
<text x="1279.01" y="1131.72" font-size="27.54" font-weight="bold" fill="#000">7</text>
<line x1="1345" y1="1085.3" x2="1345" y2="1098.5" stroke="#000" stroke-width="3"/>
<text x="1337.33" y="1131.72" font-size="27.54" font-weight="bold" fill="#000">8</text>
<text x="1083.33" y="1175.2" font-size="30.81" font-weight="bold" fill="#000" textLength="54.63" lengthAdjust="spacingAndGlyphs">Day</text>
<text x="-1.94" y="0" font-size="32.3" font-weight="bold" fill="#000" textLength="308.55" lengthAdjust="spacingAndGlyphs" transform="translate(810.9 1077.7) rotate(-90)">Disease Activity Index</text>
<polyline points="878.2,1085.3 936.55,1075.75 994.9,1049.82 1053.25,1029.86 1111.6,989.93 1169.95,958.2 1228.3,928.35 1286.65,880.58" fill="none" stroke="#47097F" stroke-width="2.2" stroke-linejoin="round"/>
<polyline points="878.2,1085.3 936.55,1076.77 994.9,1058 1053.25,1045.38 1111.6,981.23 1169.95,931.25 1228.3,895.25 1286.65,864.88" fill="none" stroke="#168282" stroke-width="2.2" stroke-linejoin="round"/>
<polyline points="878.2,1085.3 936.55,1079.33 994.9,1078.48 1053.25,1068.07 1111.6,1054.93 1169.95,1023.88 1228.3,1000.17 1286.65,949.84" fill="none" stroke="#FF0A6A" stroke-width="2.2" stroke-linejoin="round"/>
<polyline points="878.2,1085.3 936.55,1078.99 994.9,1058.86 1053.25,1017.74 1111.6,962.98 1169.95,908.22 1228.3,846.8 1286.65,823.77" fill="none" stroke="#000000" stroke-width="2.2" stroke-linejoin="round"/>
<line x1="936.55" y1="1066.36" x2="936.55" y2="1085.13" stroke="#47097F" stroke-width="2"/>
<line x1="931.55" y1="1066.36" x2="941.55" y2="1066.36" stroke="#47097F" stroke-width="2"/>
<line x1="931.55" y1="1085.13" x2="941.55" y2="1085.13" stroke="#47097F" stroke-width="2"/>
<line x1="994.9" y1="1035.31" x2="994.9" y2="1064.32" stroke="#47097F" stroke-width="2"/>
<line x1="989.9" y1="1035.31" x2="999.9" y2="1035.31" stroke="#47097F" stroke-width="2"/>
<line x1="989.9" y1="1064.32" x2="999.9" y2="1064.32" stroke="#47097F" stroke-width="2"/>
<line x1="1053.25" y1="1024.74" x2="1053.25" y2="1034.97" stroke="#47097F" stroke-width="2"/>
<line x1="1048.25" y1="1024.74" x2="1058.25" y2="1024.74" stroke="#47097F" stroke-width="2"/>
<line x1="1048.25" y1="1034.97" x2="1058.25" y2="1034.97" stroke="#47097F" stroke-width="2"/>
<line x1="1111.6" y1="980.38" x2="1111.6" y2="999.49" stroke="#47097F" stroke-width="2"/>
<line x1="1106.6" y1="980.38" x2="1116.6" y2="980.38" stroke="#47097F" stroke-width="2"/>
<line x1="1106.6" y1="999.49" x2="1116.6" y2="999.49" stroke="#47097F" stroke-width="2"/>
<line x1="1169.95" y1="941.14" x2="1169.95" y2="975.26" stroke="#47097F" stroke-width="2"/>
<line x1="1164.95" y1="941.14" x2="1174.95" y2="941.14" stroke="#47097F" stroke-width="2"/>
<line x1="1164.95" y1="975.26" x2="1174.95" y2="975.26" stroke="#47097F" stroke-width="2"/>
<line x1="1228.3" y1="914.7" x2="1228.3" y2="942" stroke="#47097F" stroke-width="2"/>
<line x1="1223.3" y1="914.7" x2="1233.3" y2="914.7" stroke="#47097F" stroke-width="2"/>
<line x1="1223.3" y1="942" x2="1233.3" y2="942" stroke="#47097F" stroke-width="2"/>
<line x1="1286.65" y1="864.37" x2="1286.65" y2="896.79" stroke="#47097F" stroke-width="2"/>
<line x1="1281.65" y1="864.37" x2="1291.65" y2="864.37" stroke="#47097F" stroke-width="2"/>
<line x1="1281.65" y1="896.79" x2="1291.65" y2="896.79" stroke="#47097F" stroke-width="2"/>
<line x1="936.55" y1="1068.24" x2="936.55" y2="1085.3" stroke="#168282" stroke-width="2"/>
<line x1="931.55" y1="1068.24" x2="941.55" y2="1068.24" stroke="#168282" stroke-width="2"/>
<line x1="931.55" y1="1085.3" x2="941.55" y2="1085.3" stroke="#168282" stroke-width="2"/>
<line x1="994.9" y1="1042.65" x2="994.9" y2="1073.36" stroke="#168282" stroke-width="2"/>
<line x1="989.9" y1="1042.65" x2="999.9" y2="1042.65" stroke="#168282" stroke-width="2"/>
<line x1="989.9" y1="1073.36" x2="999.9" y2="1073.36" stroke="#168282" stroke-width="2"/>
<line x1="1053.25" y1="1035.14" x2="1053.25" y2="1055.62" stroke="#168282" stroke-width="2"/>
<line x1="1048.25" y1="1035.14" x2="1058.25" y2="1035.14" stroke="#168282" stroke-width="2"/>
<line x1="1048.25" y1="1055.62" x2="1058.25" y2="1055.62" stroke="#168282" stroke-width="2"/>
<line x1="1111.6" y1="950.87" x2="1111.6" y2="1011.6" stroke="#168282" stroke-width="2"/>
<line x1="1106.6" y1="950.87" x2="1116.6" y2="950.87" stroke="#168282" stroke-width="2"/>
<line x1="1106.6" y1="1011.6" x2="1116.6" y2="1011.6" stroke="#168282" stroke-width="2"/>
<line x1="1169.95" y1="909.07" x2="1169.95" y2="953.43" stroke="#168282" stroke-width="2"/>
<line x1="1164.95" y1="909.07" x2="1174.95" y2="909.07" stroke="#168282" stroke-width="2"/>
<line x1="1164.95" y1="953.43" x2="1174.95" y2="953.43" stroke="#168282" stroke-width="2"/>
<line x1="1228.3" y1="872.73" x2="1228.3" y2="917.77" stroke="#168282" stroke-width="2"/>
<line x1="1223.3" y1="872.73" x2="1233.3" y2="872.73" stroke="#168282" stroke-width="2"/>
<line x1="1223.3" y1="917.77" x2="1233.3" y2="917.77" stroke="#168282" stroke-width="2"/>
<line x1="1286.65" y1="843.56" x2="1286.65" y2="886.21" stroke="#168282" stroke-width="2"/>
<line x1="1281.65" y1="843.56" x2="1291.65" y2="843.56" stroke="#168282" stroke-width="2"/>
<line x1="1281.65" y1="886.21" x2="1291.65" y2="886.21" stroke="#168282" stroke-width="2"/>
<line x1="936.55" y1="1074.21" x2="936.55" y2="1084.45" stroke="#FF0A6A" stroke-width="2"/>
<line x1="931.55" y1="1074.21" x2="941.55" y2="1074.21" stroke="#FF0A6A" stroke-width="2"/>
<line x1="931.55" y1="1084.45" x2="941.55" y2="1084.45" stroke="#FF0A6A" stroke-width="2"/>
<line x1="994.9" y1="1073.36" x2="994.9" y2="1083.59" stroke="#FF0A6A" stroke-width="2"/>
<line x1="989.9" y1="1073.36" x2="999.9" y2="1073.36" stroke="#FF0A6A" stroke-width="2"/>
<line x1="989.9" y1="1083.59" x2="999.9" y2="1083.59" stroke="#FF0A6A" stroke-width="2"/>
<line x1="1053.25" y1="1056.13" x2="1053.25" y2="1080.01" stroke="#FF0A6A" stroke-width="2"/>
<line x1="1048.25" y1="1056.13" x2="1058.25" y2="1056.13" stroke="#FF0A6A" stroke-width="2"/>
<line x1="1048.25" y1="1080.01" x2="1058.25" y2="1080.01" stroke="#FF0A6A" stroke-width="2"/>
<line x1="1111.6" y1="1040.6" x2="1111.6" y2="1069.26" stroke="#FF0A6A" stroke-width="2"/>
<line x1="1106.6" y1="1040.6" x2="1116.6" y2="1040.6" stroke="#FF0A6A" stroke-width="2"/>
<line x1="1106.6" y1="1069.26" x2="1116.6" y2="1069.26" stroke="#FF0A6A" stroke-width="2"/>
<line x1="1169.95" y1="1004.61" x2="1169.95" y2="1043.16" stroke="#FF0A6A" stroke-width="2"/>
<line x1="1164.95" y1="1004.61" x2="1174.95" y2="1004.61" stroke="#FF0A6A" stroke-width="2"/>
<line x1="1164.95" y1="1043.16" x2="1174.95" y2="1043.16" stroke="#FF0A6A" stroke-width="2"/>
<line x1="1228.3" y1="982.77" x2="1228.3" y2="1017.57" stroke="#FF0A6A" stroke-width="2"/>
<line x1="1223.3" y1="982.77" x2="1233.3" y2="982.77" stroke="#FF0A6A" stroke-width="2"/>
<line x1="1223.3" y1="1017.57" x2="1233.3" y2="1017.57" stroke="#FF0A6A" stroke-width="2"/>
<line x1="1286.65" y1="932.27" x2="1286.65" y2="967.42" stroke="#FF0A6A" stroke-width="2"/>
<line x1="1281.65" y1="932.27" x2="1291.65" y2="932.27" stroke="#FF0A6A" stroke-width="2"/>
<line x1="1281.65" y1="967.42" x2="1291.65" y2="967.42" stroke="#FF0A6A" stroke-width="2"/>
<line x1="936.55" y1="1070.46" x2="936.55" y2="1087.52" stroke="#000000" stroke-width="2"/>
<line x1="931.55" y1="1070.46" x2="941.55" y2="1070.46" stroke="#000000" stroke-width="2"/>
<line x1="931.55" y1="1087.52" x2="941.55" y2="1087.52" stroke="#000000" stroke-width="2"/>
<line x1="994.9" y1="1043.5" x2="994.9" y2="1074.21" stroke="#000000" stroke-width="2"/>
<line x1="989.9" y1="1043.5" x2="999.9" y2="1043.5" stroke="#000000" stroke-width="2"/>
<line x1="989.9" y1="1074.21" x2="999.9" y2="1074.21" stroke="#000000" stroke-width="2"/>
<line x1="1053.25" y1="1001.19" x2="1053.25" y2="1034.29" stroke="#000000" stroke-width="2"/>
<line x1="1048.25" y1="1001.19" x2="1058.25" y2="1001.19" stroke="#000000" stroke-width="2"/>
<line x1="1048.25" y1="1034.29" x2="1058.25" y2="1034.29" stroke="#000000" stroke-width="2"/>
<line x1="1111.6" y1="941.31" x2="1111.6" y2="984.65" stroke="#000000" stroke-width="2"/>
<line x1="1106.6" y1="941.31" x2="1116.6" y2="941.31" stroke="#000000" stroke-width="2"/>
<line x1="1106.6" y1="984.65" x2="1116.6" y2="984.65" stroke="#000000" stroke-width="2"/>
<line x1="1169.95" y1="892.52" x2="1169.95" y2="923.91" stroke="#000000" stroke-width="2"/>
<line x1="1164.95" y1="892.52" x2="1174.95" y2="892.52" stroke="#000000" stroke-width="2"/>
<line x1="1164.95" y1="923.91" x2="1174.95" y2="923.91" stroke="#000000" stroke-width="2"/>
<line x1="1228.3" y1="829.74" x2="1228.3" y2="863.86" stroke="#000000" stroke-width="2"/>
<line x1="1223.3" y1="829.74" x2="1233.3" y2="829.74" stroke="#000000" stroke-width="2"/>
<line x1="1223.3" y1="863.86" x2="1233.3" y2="863.86" stroke="#000000" stroke-width="2"/>
<line x1="1286.65" y1="808.59" x2="1286.65" y2="838.95" stroke="#000000" stroke-width="2"/>
<line x1="1281.65" y1="808.59" x2="1291.65" y2="808.59" stroke="#000000" stroke-width="2"/>
<line x1="1281.65" y1="838.95" x2="1291.65" y2="838.95" stroke="#000000" stroke-width="2"/>
<polygon points="872.7,1080.51 883.7,1080.51 878.2,1090.09" fill="#47097F"/>
<polygon points="931.05,1070.96 942.05,1070.96 936.55,1080.53" fill="#47097F"/>
<polygon points="989.4,1045.03 1000.4,1045.03 994.9,1054.6" fill="#47097F"/>
<polygon points="1047.75,1025.07 1058.75,1025.07 1053.25,1034.64" fill="#47097F"/>
<polygon points="1106.1,985.15 1117.1,985.15 1111.6,994.72" fill="#47097F"/>
<polygon points="1164.45,953.42 1175.45,953.42 1169.95,962.99" fill="#47097F"/>
<polygon points="1222.8,923.56 1233.8,923.56 1228.3,933.13" fill="#47097F"/>
<polygon points="1281.15,875.79 1292.15,875.79 1286.65,885.36" fill="#47097F"/>
<polygon points="872.7,1090.09 883.7,1090.09 878.2,1080.51" fill="#168282"/>
<polygon points="931.05,1081.56 942.05,1081.56 936.55,1071.98" fill="#168282"/>
<polygon points="989.4,1062.79 1000.4,1062.79 994.9,1053.22" fill="#168282"/>
<polygon points="1047.75,1050.16 1058.75,1050.16 1053.25,1040.59" fill="#168282"/>
<polygon points="1106.1,986.02 1117.1,986.02 1111.6,976.45" fill="#168282"/>
<polygon points="1164.45,936.03 1175.45,936.03 1169.95,926.46" fill="#168282"/>
<polygon points="1222.8,900.04 1233.8,900.04 1228.3,890.47" fill="#168282"/>
<polygon points="1281.15,869.67 1292.15,869.67 1286.65,860.1" fill="#168282"/>
<rect x="872.95" y="1080.05" width="10.5" height="10.5" fill="#FF0A6A"/>
<rect x="931.3" y="1074.08" width="10.5" height="10.5" fill="#FF0A6A"/>
<rect x="989.65" y="1073.23" width="10.5" height="10.5" fill="#FF0A6A"/>
<rect x="1048" y="1062.82" width="10.5" height="10.5" fill="#FF0A6A"/>
<rect x="1106.35" y="1049.68" width="10.5" height="10.5" fill="#FF0A6A"/>
<rect x="1164.7" y="1018.63" width="10.5" height="10.5" fill="#FF0A6A"/>
<rect x="1223.05" y="994.92" width="10.5" height="10.5" fill="#FF0A6A"/>
<rect x="1281.4" y="944.59" width="10.5" height="10.5" fill="#FF0A6A"/>
<circle cx="878.2" cy="1085.3" r="5" fill="#000000"/>
<circle cx="936.55" cy="1078.99" r="5" fill="#000000"/>
<circle cx="994.9" cy="1058.86" r="5" fill="#000000"/>
<circle cx="1053.25" cy="1017.74" r="5" fill="#000000"/>
<circle cx="1111.6" cy="962.98" r="5" fill="#000000"/>
<circle cx="1169.95" cy="908.22" r="5" fill="#000000"/>
<circle cx="1228.3" cy="846.8" r="5" fill="#000000"/>
<circle cx="1286.65" cy="823.77" r="5" fill="#000000"/>
<line x1="901.2" y1="697.6" x2="934" y2="697.6" stroke="#000000" stroke-width="2.2"/>
<circle cx="917.6" cy="697.6" r="5" fill="#000000"/>
<text x="953.67" y="708.1" font-size="30.81" font-weight="bold" fill="#000" textLength="185.6" lengthAdjust="spacingAndGlyphs">WT(DSS+Pg)</text>
<line x1="901.2" y1="740.9" x2="934" y2="740.9" stroke="#FF0A6A" stroke-width="2.2"/>
<rect x="912.6" y="735.9" width="10" height="10" fill="#FF0A6A"/>
<text x="953.67" y="751.4" font-size="30.81" font-weight="bold" fill="#000" textLength="241.49" lengthAdjust="spacingAndGlyphs">WT(DSS+Pg+LA)</text>
<line x1="901.2" y1="785" x2="934" y2="785" stroke="#168282" stroke-width="2.2"/>
<polygon points="912.1,789.78 923.1,789.78 917.6,780.22" fill="#168282"/>
<text x="951.73" y="795.5" font-size="30.81" font-weight="bold" fill="#000" textLength="182.04" lengthAdjust="spacingAndGlyphs">KO(DSS+Pg)</text>
<line x1="901.2" y1="821.6" x2="934" y2="821.6" stroke="#47097F" stroke-width="2.2"/>
<polygon points="912.1,816.82 923.1,816.82 917.6,826.38" fill="#47097F"/>
<text x="951.73" y="832.1" font-size="30.81" font-weight="bold" fill="#000" textLength="239.24" lengthAdjust="spacingAndGlyphs">KO(DSS+Pg+LA)</text>
<path d="M1303 857.3 H1317.7 V886 H1303" fill="none" stroke="#000" stroke-width="3.6"/>
<path d="M1353.5 815.7 H1369 V943.5 H1353.5" fill="none" stroke="#000" stroke-width="3.6"/>
<text x="1326.25" y="883" font-size="29.92" font-weight="normal" fill="#000" textLength="31.22" lengthAdjust="spacingAndGlyphs">ns</text>
<text x="1380.93" y="906.29" font-size="33.41" font-weight="bold" stroke="#000" stroke-width="0.9" style="font-family:'DejaVu Sans',sans-serif">*</text>
<text x="1400.56" y="906.29" font-size="33.41" font-weight="bold" stroke="#000" stroke-width="0.9" style="font-family:'DejaVu Sans',sans-serif">*</text>
<text x="1420.2" y="906.29" font-size="33.41" font-weight="bold" stroke="#000" stroke-width="0.9" style="font-family:'DejaVu Sans',sans-serif">*</text>
<text x="1440.55" y="892.2" font-size="32.23" font-weight="normal" fill="#000" textLength="128.1" lengthAdjust="spacingAndGlyphs">p=0.0005</text>
<text x="1540.81" y="686" font-size="60" font-weight="bold" fill="#000" textLength="21.26" lengthAdjust="spacingAndGlyphs" stroke="#000" stroke-width="1.1">f</text>
<line x1="1680.5" y1="695.65" x2="1680.5" y2="1022.85" stroke="#000" stroke-width="2.7"/>
<line x1="1666.9" y1="1021.5" x2="1680.5" y2="1021.5" stroke="#000" stroke-width="2.7"/>
<text x="1648.19" y="1031.59" font-size="28.5" font-weight="bold" fill="#000">0</text>
<line x1="1666.9" y1="956.6" x2="1680.5" y2="956.6" stroke="#000" stroke-width="2.7"/>
<text x="1648.17" y="966.69" font-size="28.5" font-weight="bold" fill="#000">2</text>
<line x1="1666.9" y1="891.7" x2="1680.5" y2="891.7" stroke="#000" stroke-width="2.7"/>
<text x="1647.2" y="901.79" font-size="28.5" font-weight="bold" fill="#000">4</text>
<line x1="1666.9" y1="826.8" x2="1680.5" y2="826.8" stroke="#000" stroke-width="2.7"/>
<text x="1648.05" y="836.89" font-size="28.5" font-weight="bold" fill="#000">6</text>
<line x1="1666.9" y1="761.9" x2="1680.5" y2="761.9" stroke="#000" stroke-width="2.7"/>
<text x="1647.91" y="771.99" font-size="28.5" font-weight="bold" fill="#000">8</text>
<line x1="1666.9" y1="697" x2="1680.5" y2="697" stroke="#000" stroke-width="2.7"/>
<text x="1632.35" y="707.09" font-size="28.5" font-weight="bold" fill="#000">10</text>
<line x1="1666.9" y1="1021.5" x2="2002" y2="1021.5" stroke="#000" stroke-width="2.7"/>
<line x1="1729.2" y1="1021.5" x2="1729.2" y2="1034.6" stroke="#000" stroke-width="2.7"/>
<line x1="1802.8" y1="1021.5" x2="1802.8" y2="1034.6" stroke="#000" stroke-width="2.7"/>
<line x1="1876.7" y1="1021.5" x2="1876.7" y2="1034.6" stroke="#000" stroke-width="2.7"/>
<line x1="1950.4" y1="1021.5" x2="1950.4" y2="1034.6" stroke="#000" stroke-width="2.7"/>
<path d="M1707.4 1022.8 V781.4 H1751.2 V1022.8" fill="none" stroke="#000000" stroke-width="3"/>
<path d="M1780.6 1022.8 V934 H1825.6 V1022.8" fill="none" stroke="#FF0A6A" stroke-width="3"/>
<path d="M1855 1022.8 V884.9 H1899 V1022.8" fill="none" stroke="#168282" stroke-width="3"/>
<path d="M1928.1 1022.8 V905.4 H1972.7 V1022.8" fill="none" stroke="#47097F" stroke-width="3"/>
<line x1="1729.3" y1="771" x2="1729.3" y2="786.3" stroke="#000000" stroke-width="2"/>
<line x1="1717.3" y1="771" x2="1741.3" y2="771" stroke="#000000" stroke-width="2"/>
<line x1="1717.3" y1="786.3" x2="1741.3" y2="786.3" stroke="#000000" stroke-width="2"/>
<line x1="1802.9" y1="927.5" x2="1802.9" y2="938" stroke="#FF0A6A" stroke-width="2"/>
<line x1="1790.9" y1="927.5" x2="1814.9" y2="927.5" stroke="#FF0A6A" stroke-width="2"/>
<line x1="1790.9" y1="938" x2="1814.9" y2="938" stroke="#FF0A6A" stroke-width="2"/>
<line x1="1876.8" y1="873.6" x2="1876.8" y2="890" stroke="#168282" stroke-width="2"/>
<line x1="1864.8" y1="873.6" x2="1888.8" y2="873.6" stroke="#168282" stroke-width="2"/>
<line x1="1864.8" y1="890" x2="1888.8" y2="890" stroke="#168282" stroke-width="2"/>
<line x1="1950.4" y1="896.2" x2="1950.4" y2="909.1" stroke="#47097F" stroke-width="2"/>
<line x1="1938.4" y1="896.2" x2="1962.4" y2="896.2" stroke="#47097F" stroke-width="2"/>
<line x1="1938.4" y1="909.1" x2="1962.4" y2="909.1" stroke="#47097F" stroke-width="2"/>
<circle cx="1711" cy="760.3" r="6.5" fill="#000000"/>
<circle cx="1748.3" cy="761.5" r="6.5" fill="#000000"/>
<circle cx="1729.7" cy="783.8" r="6.5" fill="#000000"/>
<circle cx="1711" cy="793.8" r="6.5" fill="#000000"/>
<circle cx="1748.3" cy="793.8" r="6.5" fill="#000000"/>
<rect x="1777.4" y="915.9" width="13.6" height="13.6" fill="#FF0A6A"/>
<rect x="1796" y="928.3" width="13.6" height="13.6" fill="#FF0A6A"/>
<rect x="1814.6" y="918.4" width="13.6" height="13.6" fill="#FF0A6A"/>
<rect x="1777.4" y="933.3" width="13.6" height="13.6" fill="#FF0A6A"/>
<rect x="1814.6" y="933.3" width="13.6" height="13.6" fill="#FF0A6A"/>
<polygon points="1869.2,866.02 1884.2,866.02 1876.7,852.98" fill="#168282"/>
<polygon points="1851.1,880.92 1866.1,880.92 1858.6,867.88" fill="#168282"/>
<polygon points="1888.3,880.92 1903.3,880.92 1895.8,867.88" fill="#168282"/>
<polygon points="1869.2,898.23 1884.2,898.23 1876.7,885.18" fill="#168282"/>
<polygon points="1869.2,913.12 1884.2,913.12 1876.7,900.08" fill="#168282"/>
<circle cx="1931.8" cy="891.7" r="6.5" fill="#47097F"/>
<circle cx="1950.4" cy="891.7" r="6.5" fill="#47097F"/>
<circle cx="1969" cy="897.9" r="6.5" fill="#47097F"/>
<circle cx="1950.4" cy="906.6" r="6.5" fill="#47097F"/>
<circle cx="1950.4" cy="924" r="6.5" fill="#47097F"/>
<path d="M1724.2 731.8 V715.6 H1804.6 V731.8" fill="none" stroke="#000" stroke-width="3" stroke-linejoin="round"/>
<path d="M1876.7 826 V810.6 H1955.8 V826" fill="none" stroke="#000" stroke-width="3" stroke-linejoin="round"/>
<text x="1697.37" y="700" font-size="29.08" font-weight="normal" fill="#000" textLength="132.88" lengthAdjust="spacingAndGlyphs">p=0.0003</text>
<text x="1733.95" y="674.99" font-size="32.33" font-weight="bold" stroke="#000" stroke-width="0.9" style="font-family:'DejaVu Sans',sans-serif">*</text>
<text x="1755.3" y="674.99" font-size="32.33" font-weight="bold" stroke="#000" stroke-width="0.9" style="font-family:'DejaVu Sans',sans-serif">*</text>
<text x="1776.64" y="674.99" font-size="32.33" font-weight="bold" stroke="#000" stroke-width="0.9" style="font-family:'DejaVu Sans',sans-serif">*</text>
<text x="1901.33" y="796.7" font-size="29.92" font-weight="normal" fill="#000" textLength="31.55" lengthAdjust="spacingAndGlyphs">ns</text>
<text x="-2.07" y="0" font-size="31.4" font-weight="bold" fill="#000" textLength="384.29" lengthAdjust="spacingAndGlyphs" transform="translate(1616.8 1046.8) rotate(-90)">Histological activity index</text>
<text x="1604.07" y="1199.19" font-size="31.4" font-weight="bold" fill="#000" textLength="192.76" lengthAdjust="spacingAndGlyphs" transform="rotate(-45 1604.11 1199.19)">WT(DSS+Pg)</text>
<text x="1635.11" y="1241.76" font-size="31.4" font-weight="bold" fill="#000" textLength="252.95" lengthAdjust="spacingAndGlyphs" transform="rotate(-45 1635.14 1241.76)">WT(DSS+Pg+LA)</text>
<text x="1752.2" y="1196.53" font-size="31.4" font-weight="bold" fill="#000" textLength="191.04" lengthAdjust="spacingAndGlyphs" transform="rotate(-45 1754.27 1196.53)">KO(DSS+Pg)</text>
<text x="1783.33" y="1239.09" font-size="31.4" font-weight="bold" fill="#000" textLength="251.23" lengthAdjust="spacingAndGlyphs" transform="rotate(-45 1785.41 1239.09)">KO(DSS+Pg+LA)</text>
<defs><filter id="htex" x="0" y="1200" width="600" height="870" filterUnits="userSpaceOnUse">
<feTurbulence type="fractalNoise" baseFrequency="0.45" numOctaves="2" seed="7" result="n"/>
<feColorMatrix in="n" type="matrix" values="0 0 0 0 1  0 0 0 0 0.96  0 0 0 0 1  0 0 0 -10 5.9" result="w"/>
<feTurbulence type="fractalNoise" baseFrequency="0.3" numOctaves="2" seed="11" result="n2"/>
<feColorMatrix in="n2" type="matrix" values="0 0 0 0 0.33  0 0 0 0 0.08  0 0 0 0 0.5  0 0 0 8 -4.6" result="dk"/>
<feMerge><feMergeNode in="dk"/><feMergeNode in="w"/></feMerge>
</filter></defs>
<text x="49.42" y="1249.47" font-size="59.12" font-weight="bold" fill="#000" textLength="36.92" lengthAdjust="spacingAndGlyphs" stroke="#000" stroke-width="1.1">g</text>
<text x="84.87" y="1304.7" font-size="30.09" font-weight="bold" fill="#000" textLength="167.25" lengthAdjust="spacingAndGlyphs" stroke="#000" stroke-width="0.6">WT(DSS+Pg)</text>
<text x="322.47" y="1304.7" font-size="30.09" font-weight="bold" fill="#000" textLength="217.74" lengthAdjust="spacingAndGlyphs" stroke="#000" stroke-width="0.6">WT(DSS+Pg+LA)</text>
<text x="85.31" y="1725.7" font-size="30.09" font-weight="bold" fill="#000" textLength="164.61" lengthAdjust="spacingAndGlyphs" stroke="#000" stroke-width="0.6">KO(DSS+Pg)</text>
<text x="320.71" y="1727.9" font-size="30.09" font-weight="bold" fill="#000" textLength="216.41" lengthAdjust="spacingAndGlyphs" stroke="#000" stroke-width="0.6">KO(DSS+Pg+LA)</text>
<clipPath id="hclip1"><path d="M69.3 1325.5 C69.3 1325.5 157.6 1325.5 157.6 1325.5 C157.6 1325.5 185.26 1341.13 194.7 1348.7 C204.14 1356.27 221 1373.33 228.4 1382.3 C235.8 1391.27 245.95 1407.01 250.2 1416 C254.45 1424.99 258.79 1440.71 260.3 1449.7 C261.81 1458.69 261.73 1474.43 261.5 1483.4 C261.27 1492.37 260.77 1508.03 258.6 1517 C256.43 1525.97 250.13 1541.71 245.2 1550.7 C240.27 1559.69 229.23 1576.32 221.6 1584.4 C213.97 1592.48 197.55 1605.49 188 1611.3 C178.45 1617.11 160.4 1624.77 150 1628 C139.6 1631.23 120.76 1634.3 110 1635.5 C99.24 1636.7 69.3 1637 69.3 1637 C69.3 1637 69.3 1325.5 69.3 1325.5 Z"/></clipPath>
<g clip-path="url(#hclip1)">
<path d="M69.3 1325.5 C69.3 1325.5 157.6 1325.5 157.6 1325.5 C157.6 1325.5 185.26 1341.13 194.7 1348.7 C204.14 1356.27 221 1373.33 228.4 1382.3 C235.8 1391.27 245.95 1407.01 250.2 1416 C254.45 1424.99 258.79 1440.71 260.3 1449.7 C261.81 1458.69 261.73 1474.43 261.5 1483.4 C261.27 1492.37 260.77 1508.03 258.6 1517 C256.43 1525.97 250.13 1541.71 245.2 1550.7 C240.27 1559.69 229.23 1576.32 221.6 1584.4 C213.97 1592.48 197.55 1605.49 188 1611.3 C178.45 1617.11 160.4 1624.77 150 1628 C139.6 1631.23 120.76 1634.3 110 1635.5 C99.24 1636.7 69.3 1637 69.3 1637 C69.3 1637 69.3 1325.5 69.3 1325.5 Z" fill="#e462a6"/>
<path d="M40 1300 C40 1300 100 1300 100 1300 C100 1300 114.55 1322.5 120 1330 C125.45 1337.5 127.96 1345.32 136.3 1350 C144.64 1354.68 166.24 1357.43 175.6 1361.2 C184.96 1364.97 192.46 1368.84 198.7 1375.1 C204.94 1381.36 213.03 1394.58 217.2 1402.9 C221.37 1411.23 224.76 1419.51 226.5 1430.6 C228.24 1441.68 228.8 1462.92 228.8 1476.8 C228.8 1490.67 228.93 1510.95 226.5 1523.1 C224.07 1535.25 218.15 1548.78 212.6 1557.8 C207.05 1566.82 197.48 1576.96 189.5 1583.2 C181.52 1589.44 170.16 1595.94 159.4 1599.4 C148.65 1602.87 128.21 1603.96 117.8 1606.3 C107.39 1608.64 97.17 1609.94 90 1615 C82.83 1620.06 70 1640 70 1640 C70 1640 40 1640 40 1640 C40 1640 40 1300 40 1300 Z" fill="#e4cce8"/>
<path d="M40 1356 C40 1356 75.6 1356.3 90 1356 C104.4 1355.7 123.4 1352.72 136 1354 C148.6 1355.28 165 1360.9 174 1364.5 C183 1368.1 190 1371.92 196 1378 C202 1384.08 209.95 1397.05 214 1405 C218.05 1412.95 221.28 1420.2 223 1431 C224.72 1441.8 225.5 1463.35 225.5 1477 C225.5 1490.65 225.4 1510.22 223 1522 C220.6 1533.78 214.9 1546.8 209.5 1555.5 C204.1 1564.2 194.72 1574.08 187 1580 C179.28 1585.92 168.35 1593.5 158 1595 C147.65 1596.5 128.2 1591.05 118 1590 C107.8 1588.95 101.7 1588.3 90 1588 C78.3 1587.7 40 1588 40 1588 C40 1588 40 1356 40 1356 Z" fill="#ab80cb"/>
<rect x="0" y="1300" width="560" height="762" filter="url(#htex)" opacity="0.45"/>
</g>
<g clip-path="url(#hclip1)"><path d="M40 1362 C40 1362 85 1359.3 100 1362 C115 1364.7 130.25 1371.3 140 1380 C149.75 1388.7 159.3 1408 165 1420 C170.7 1432 175.75 1448 178 1460 C180.25 1472 181.2 1488.75 180 1500 C178.8 1511.25 174.5 1526 170 1535 C165.5 1544 158.25 1554 150 1560 C141.75 1566 131.5 1572.3 115 1575 C98.5 1577.7 40 1578 40 1578 C40 1578 40 1362 40 1362 Z" fill="#9256b6" opacity="0.75"/><rect x="0" y="1300" width="560" height="762" filter="url(#htex)" opacity="0.4"/>
<path d="M40 1444.5 C40 1444.5 86.98 1445.32 94.7 1444.5 C102.42 1443.68 103.51 1439.93 106.2 1437.5 C108.89 1435.07 115.64 1427.2 117.8 1423.7 C119.96 1420.2 124.16 1412.37 124.7 1407.5 C125.24 1402.63 122.4 1382 122.4 1382 C122.4 1382 133.33 1388.33 136.3 1391.3 C139.28 1394.27 145.21 1403.72 147.9 1407.5 C150.59 1411.28 156.71 1420.2 159.4 1423.7 C162.09 1427.2 168.57 1434 171 1437.5 C173.43 1441 180.2 1453.7 180.2 1453.7 C180.2 1453.7 176.94 1464.36 175.6 1467.6 C174.26 1470.84 170.32 1477.18 168.7 1481.5 C167.08 1485.82 162.78 1498.67 161.7 1504.6 C160.61 1510.53 159.4 1532.3 159.4 1532.3 C159.4 1532.3 156.14 1509.72 154.8 1504.6 C153.46 1499.48 150.06 1491.64 147.9 1488.4 C145.74 1485.16 139.81 1479.23 136.3 1476.8 C132.79 1474.37 121.85 1467.6 117.8 1467.6 C113.75 1467.6 105.11 1475.18 101.6 1476.8 C98.09 1478.42 94.89 1480.95 87.7 1481.5 C80.51 1482.05 40 1481.5 40 1481.5 C40 1481.5 40 1444.5 40 1444.5 Z" fill="#fff"/>
</g>
<text x="158.99" y="1628.1" font-size="24.36" font-weight="bold" fill="#000" textLength="75.78" lengthAdjust="spacingAndGlyphs" stroke="#000" stroke-width="0.5">200μm</text>
<rect x="189.2" y="1631.5" width="58.8" height="4.2" fill="#000"/>
<clipPath id="hclip2"><path d="M295.8 1330.7 C295.8 1330.7 372.1 1330.7 372.1 1330.7 C372.1 1330.7 407.6 1341.48 418.4 1347.4 C429.2 1353.32 445.39 1367.09 453.1 1375.1 C460.81 1383.11 471.89 1398.25 476.2 1407.5 C480.51 1416.75 483.87 1432.17 485.4 1444.5 C486.93 1456.83 487.7 1485.2 487.7 1500 C487.7 1514.8 488.48 1544.1 485.4 1555.5 C482.32 1566.9 473.53 1577.79 464.6 1585.5 C455.67 1593.21 430.73 1607.13 418.4 1613.3 C406.07 1619.47 383.89 1628.51 372.1 1631.8 C360.31 1635.09 340.17 1636.77 330 1638 C319.83 1639.23 295.8 1641 295.8 1641 C295.8 1641 295.8 1330.7 295.8 1330.7 Z"/></clipPath>
<g clip-path="url(#hclip2)">
<path d="M295.8 1330.7 C295.8 1330.7 372.1 1330.7 372.1 1330.7 C372.1 1330.7 407.6 1341.48 418.4 1347.4 C429.2 1353.32 445.39 1367.09 453.1 1375.1 C460.81 1383.11 471.89 1398.25 476.2 1407.5 C480.51 1416.75 483.87 1432.17 485.4 1444.5 C486.93 1456.83 487.7 1485.2 487.7 1500 C487.7 1514.8 488.48 1544.1 485.4 1555.5 C482.32 1566.9 473.53 1577.79 464.6 1585.5 C455.67 1593.21 430.73 1607.13 418.4 1613.3 C406.07 1619.47 383.89 1628.51 372.1 1631.8 C360.31 1635.09 340.17 1636.77 330 1638 C319.83 1639.23 295.8 1641 295.8 1641 C295.8 1641 295.8 1330.7 295.8 1330.7 Z" fill="#e462a6"/>
<path d="M260 1345 C260 1345 349.03 1342.57 372.1 1345 C395.17 1347.43 402.36 1354.26 413.8 1361.2 C425.25 1368.14 440.07 1381.58 448.4 1391.3 C456.72 1401.02 465.13 1414.9 469.3 1426 C473.47 1437.1 475.16 1450.73 476.2 1465.3 C477.24 1479.87 476.89 1509.91 476.2 1523.1 C475.51 1536.28 475.06 1545.57 471.6 1553.2 C468.14 1560.84 461.77 1567.41 453.1 1574 C444.43 1580.59 425.95 1591.2 413.8 1597.1 C401.65 1602.99 389.8 1609.49 372.1 1613.3 C354.4 1617.11 312.62 1621.05 295.8 1622.5 C278.99 1623.95 260 1623 260 1623 C260 1623 260 1345 260 1345 Z" fill="#f2e2f2"/>
<path d="M260 1349.5 C260 1349.5 283.69 1349.85 300.5 1349.7 C317.31 1349.55 358.93 1345.72 372.1 1348.5 C385.27 1351.28 382.05 1363.17 388.3 1368.2 C394.56 1373.23 405.82 1376.8 413.8 1382 C421.78 1387.2 433.88 1394.92 441.5 1402.9 C449.12 1410.88 459.74 1424.12 464.6 1435.2 C469.46 1446.29 472.85 1461.88 473.9 1476.8 C474.95 1491.72 474.03 1520.83 471.6 1534.7 C469.17 1548.58 463.94 1561.34 457.7 1569.3 C451.46 1577.26 440.41 1583.28 430 1587.8 C419.59 1592.32 402.18 1595.23 388.3 1599.4 C374.43 1603.57 351.38 1612.48 337.5 1615.6 C323.62 1618.72 307.43 1619.54 295.8 1620.2 C284.18 1620.86 260 1620 260 1620 C260 1620 260 1349.5 260 1349.5 Z" fill="#8e52b4"/>
<rect x="0" y="1300" width="560" height="762" filter="url(#htex)" opacity="0.45"/>
<path d="M260 1432.9 C260 1432.9 288.92 1433.97 295.8 1432.9 C302.68 1431.83 314.68 1427.2 319 1423.7 C323.32 1420.2 329.84 1407.49 332.8 1402.9 C335.76 1398.32 342.51 1387.91 344.4 1384.4 C346.29 1380.89 349 1372.8 349 1372.8 C349 1372.8 347.5 1395.62 346.7 1402.9 C345.89 1410.18 343.17 1429.27 342.1 1435.2 C341.03 1441.13 336.43 1449.38 337.5 1453.7 C338.57 1458.02 346.45 1469.77 351.3 1472.2 C356.15 1474.63 373.97 1476.11 379.1 1474.5 C384.23 1472.89 391.25 1461.9 395.3 1458.4 C399.35 1454.9 409.75 1447.74 413.8 1444.5 C417.85 1441.26 430 1430.6 430 1430.6 C430 1430.6 440.82 1436.12 439.2 1439.9 C437.58 1443.68 420.69 1457.07 416.1 1463 C411.52 1468.93 400.98 1484.23 399.9 1490.7 C398.81 1497.17 402.22 1514.72 406.8 1518.5 C411.38 1522.28 439.2 1523.1 439.2 1523.1 C439.2 1523.1 411.12 1524.61 406.8 1530 C402.48 1535.39 402.2 1569.3 402.2 1569.3 C402.2 1569.3 395.69 1536.87 393 1527.7 C390.31 1518.53 384.23 1496.09 379.1 1490.7 C373.97 1485.31 354.4 1480.41 349 1481.5 C343.6 1482.59 334.14 1492.45 332.8 1500 C331.46 1507.55 337.5 1535.96 337.5 1546.2 C337.5 1556.44 332.8 1587.8 332.8 1587.8 C332.8 1587.8 324 1554.29 321.3 1546.2 C318.61 1538.12 312.68 1523.09 309.7 1518.5 C306.72 1513.91 301.6 1508.25 295.8 1506.9 C290 1505.55 260 1506.9 260 1506.9 C260 1506.9 260 1432.9 260 1432.9 Z" fill="#fff"/>
</g>
<text x="415.79" y="1628.1" font-size="24.36" font-weight="bold" fill="#000" textLength="75.27" lengthAdjust="spacingAndGlyphs" stroke="#000" stroke-width="0.5">200μm</text>
<rect x="416.6" y="1631.5" width="57.6" height="4.2" fill="#000"/>
<clipPath id="hclip3"><path d="M71.5 1747.4 C71.5 1747.4 236 1747.4 236 1747.4 C236 1747.4 242 1761.79 244 1770 C246 1778.21 249.13 1798.33 251 1809 C252.87 1819.67 256.6 1840.53 258 1850 C259.4 1859.47 260.9 1866.67 261.5 1880 C262.1 1893.33 262.43 1926.4 262.5 1950 C262.57 1973.6 262 2057 262 2057 C262 2057 71.5 2057 71.5 2057 C71.5 2057 71.5 1747.4 71.5 1747.4 Z"/></clipPath>
<g clip-path="url(#hclip3)">
<path d="M71.5 1747.4 C71.5 1747.4 236 1747.4 236 1747.4 C236 1747.4 242 1761.79 244 1770 C246 1778.21 249.13 1798.33 251 1809 C252.87 1819.67 256.6 1840.53 258 1850 C259.4 1859.47 260.9 1866.67 261.5 1880 C262.1 1893.33 262.43 1926.4 262.5 1950 C262.57 1973.6 262 2057 262 2057 C262 2057 71.5 2057 71.5 2057 C71.5 2057 71.5 1747.4 71.5 1747.4 Z" fill="#e462a6"/>
<path d="M60 1740 C60 1740 183 1735.33 203 1740 C223 1744.67 208.13 1765.8 210 1775 C211.87 1784.2 214.87 1799.67 217 1809 C219.13 1818.33 224.13 1835.67 226 1845 C227.87 1854.33 229.67 1865 231 1879 C232.33 1893 235.47 1933.87 236 1950 C236.53 1966.13 235.53 1985.73 235 2000 C234.47 2014.27 232.67 2047.67 232 2057 C231.33 2066.33 230 2070 230 2070 C230 2070 60 2070 60 2070 C60 2070 60 1740 60 1740 Z" fill="#eadaf0"/>
<path d="M60 1740 C60 1740 162 1735.33 180 1740 C198 1744.67 191.4 1766.33 195 1775 C198.6 1783.67 204.47 1797 207 1805 C209.53 1813 213.6 1827 214 1835 C214.4 1843 212.13 1857.67 210 1865 C207.87 1872.33 200.67 1884.67 198 1890 C195.33 1895.33 190 1898.33 190 1905 C190 1911.67 195.73 1930.67 198 1940 C200.27 1949.33 205.93 1965.67 207 1975 C208.07 1984.33 207.2 2001.33 206 2010 C204.8 2018.67 199.87 2032 198 2040 C196.13 2048 192 2070 192 2070 C192 2070 60 2070 60 2070 C60 2070 60 1740 60 1740 Z" fill="#9860bb"/>
<rect x="0" y="1300" width="560" height="762" filter="url(#htex)" opacity="0.45"/>
<path d="M60 1820.5 L110 1806 L158.6 1776.1 L134 1822 L175 1832 L125.7 1841.8 L92.9 1858.3 L85 1880 L82 1910 L88 1940 L95 1955 L112 1970 L122.4 1983.1 L133.9 2002.8 L122.4 2019.2 L101 2011 L85 1995 L60 1986.4 Z" fill="#fff"/>
<path d="M180 1745 C182.27 1743.53 199.13 1741.4 203 1745 C206.87 1748.6 207.67 1764.67 209 1772 C210.33 1779.33 213.53 1796.93 213 1800 C212.47 1803.07 207.27 1798.73 205 1795 C202.73 1791.27 198.53 1777.2 196 1772 C193.47 1766.8 188.13 1759.6 186 1756 C183.87 1752.4 177.73 1746.47 180 1745 Z" fill="#fff"/>
<path d="M186 1993 L196 1990 L192 2020 L186 2040 L182 2020 Z" fill="#fff"/>
</g>
<path d="M246 1748 C254 1765 259 1790 262 1815" fill="none" stroke="#b890b8" stroke-width="1.2"/>
<text x="158.99" y="2049.5" font-size="24.36" font-weight="bold" fill="#000" textLength="75.78" lengthAdjust="spacingAndGlyphs" stroke="#000" stroke-width="0.5">200μm</text>
<rect x="189.2" y="2053.2" width="58.8" height="4.2" fill="#000"/>
<clipPath id="hclip4"><path d="M300.2 1747.4 L486 1747.4 L492.9 1756 L492.9 2042 L487 2057 L300.2 2057 Z"/></clipPath>
<g clip-path="url(#hclip4)">
<path d="M300.2 1747.4 L486 1747.4 L492.9 1756 L492.9 2042 L487 2057 L300.2 2057 Z" fill="#e462a6"/>
<path d="M290 1740 C308.84 1696 411.59 1733.43 431.3 1740 C451.01 1746.57 435.61 1779.45 437.8 1789.3 C439.99 1799.15 445.5 1805.14 447.7 1813.9 C449.9 1822.66 453.65 1842.95 454.3 1855 C454.95 1867.05 453.27 1891.17 452.6 1904.3 C451.93 1917.43 451.27 1940.37 449.3 1953.5 C447.33 1966.63 439.77 1989 437.8 2002.8 C435.83 2016.6 435.54 2048.04 434.5 2057 C433.46 2065.96 449.27 2068.27 430 2070 C410.73 2071.73 308.67 2114 290 2070 C271.33 2026 271.16 1784 290 1740 Z" fill="#ecdcf0"/>
<path d="M290 1740 C308.8 1696 411.53 1733.43 431 1740 C450.47 1746.57 435.53 1777.03 436 1789.3 C436.47 1801.57 438.19 1819.31 434.5 1832 C430.81 1844.69 408.95 1868.3 408.3 1884.5 C407.65 1900.7 426.32 1939.91 429.6 1953.5 C432.88 1967.09 433.99 1977.64 432.9 1986.4 C431.81 1995.16 423.37 2008.72 421.4 2019.2 C419.43 2029.68 435.62 2058.23 418.1 2065 C400.58 2071.77 307.08 2113.33 290 2070 C272.92 2026.67 271.2 1784 290 1740 Z" fill="#925ab8"/>
<rect x="0" y="1300" width="560" height="762" filter="url(#htex)" opacity="0.45"/>
<path d="M300.2 1756.4 L331 1759.7 L355.7 1749.9 L364 1769.6 L405 1794.2 L355.7 1781 L339.3 1794.2 L331 1794.2 L318 1830.3 L304.8 1855 L301.5 1904.3 L319.6 1920.7 L322.9 1945.3 L347.5 1970 L385.3 1983.1 L368.8 1994.6 L336 2002.8 L319.6 2016 L311.4 2027.5 L300.2 2032.4 L290 2032 L290 1756 Z" fill="#fff"/>
<path d="M300 1770 L312 1768 L318 1785 L310 1795 L300 1795 Z" fill="#fff"/>
</g>
<text x="415.79" y="2053.5" font-size="24.36" font-weight="bold" fill="#000" textLength="75.27" lengthAdjust="spacingAndGlyphs" stroke="#000" stroke-width="0.5">200μm</text>
<rect x="416.6" y="2056.9" width="57.6" height="4.2" fill="#000"/>
<text x="597.85" y="1286" font-size="61.79" font-weight="bold" fill="#000" textLength="36.78" lengthAdjust="spacingAndGlyphs" stroke="#000" stroke-width="1.1">h</text>
<line x1="722.7" y1="1312.4" x2="722.7" y2="1621.6" stroke="#000" stroke-width="2.8"/>
<line x1="709.3" y1="1621.6" x2="722.7" y2="1621.6" stroke="#000" stroke-width="2.8"/>
<text x="692.45" y="1630.17" font-size="24.9" font-weight="bold" fill="#000">0</text>
<line x1="709.3" y1="1560.04" x2="722.7" y2="1560.04" stroke="#000" stroke-width="2.8"/>
<text x="692.43" y="1568.61" font-size="24.9" font-weight="bold" fill="#000">2</text>
<line x1="709.3" y1="1498.48" x2="722.7" y2="1498.48" stroke="#000" stroke-width="2.8"/>
<text x="691.58" y="1507.05" font-size="24.9" font-weight="bold" fill="#000">4</text>
<line x1="709.3" y1="1436.92" x2="722.7" y2="1436.92" stroke="#000" stroke-width="2.8"/>
<text x="692.33" y="1445.49" font-size="24.9" font-weight="bold" fill="#000">6</text>
<line x1="709.3" y1="1375.36" x2="722.7" y2="1375.36" stroke="#000" stroke-width="2.8"/>
<text x="692.2" y="1383.93" font-size="24.9" font-weight="bold" fill="#000">8</text>
<line x1="709.3" y1="1313.8" x2="722.7" y2="1313.8" stroke="#000" stroke-width="2.8"/>
<text x="678.61" y="1322.37" font-size="24.9" font-weight="bold" fill="#000">10</text>
<line x1="709.3" y1="1621.6" x2="1038.2" y2="1621.6" stroke="#000" stroke-width="2.8"/>
<line x1="770.3" y1="1621.6" x2="770.3" y2="1634.3" stroke="#000" stroke-width="2.8"/>
<line x1="842.9" y1="1621.6" x2="842.9" y2="1634.3" stroke="#000" stroke-width="2.8"/>
<line x1="915.3" y1="1621.6" x2="915.3" y2="1634.3" stroke="#000" stroke-width="2.8"/>
<line x1="988.1" y1="1621.6" x2="988.1" y2="1634.3" stroke="#000" stroke-width="2.8"/>
<text x="-0.72" y="0" font-size="31.7" font-weight="bold" textLength="304.72" lengthAdjust="spacingAndGlyphs" transform="translate(662.8 1620.4) rotate(-90)">% IL-17<tspan font-size="22.82" dy="-12.68">+</tspan><tspan dy="12.68"> Th17 in MLN</tspan></text>
<text x="782.81" y="1305.15" font-size="34.7" font-weight="bold" stroke="#000" stroke-width="0.9" style="font-family:'DejaVu Sans',sans-serif">*</text>
<text x="804.83" y="1305.15" font-size="34.7" font-weight="bold" stroke="#000" stroke-width="0.9" style="font-family:'DejaVu Sans',sans-serif">*</text>
<text x="826.85" y="1305.15" font-size="34.7" font-weight="bold" stroke="#000" stroke-width="0.9" style="font-family:'DejaVu Sans',sans-serif">*</text>
<text x="747.99" y="1329.1" font-size="29.8" font-weight="normal" fill="#000" textLength="131.65" lengthAdjust="spacingAndGlyphs">p=0.0008</text>
<path d="M768.9 1358 V1344.1 H859.1 V1358" fill="none" stroke="#000" stroke-width="3" stroke-linejoin="round"/>
<path d="M908.3 1441.2 V1425.5 H996.2 V1441.2" fill="none" stroke="#000" stroke-width="3" stroke-linejoin="round"/>
<text x="935.07" y="1410.7" font-size="28.98" font-weight="normal" fill="#000" textLength="34.1" lengthAdjust="spacingAndGlyphs">ns</text>
<path d="M755.3 1384.6 H785.3 C785.63 1386.63 787.72 1389.73 787.3 1396.8 C786.88 1403.87 781.72 1416.3 782.8 1427 C783.88 1437.7 792.63 1452.47 793.8 1461 C794.97 1469.53 790.47 1475.33 789.8 1478.2 H750.8 C750.13 1475.33 745.63 1469.53 746.8 1461 C747.97 1452.47 756.72 1437.7 757.8 1427 C758.88 1416.3 753.72 1403.87 753.3 1396.8 C752.88 1389.73 754.97 1386.63 755.3 1384.6 Z" fill="none" stroke="#000000" stroke-width="2.2" stroke-linejoin="round"/>
<line x1="754.3" y1="1444" x2="786.3" y2="1444" stroke="#000000" stroke-width="2" stroke-dasharray="5 3.5"/>
<line x1="755.3" y1="1396.8" x2="785.3" y2="1396.8" stroke="#000000" stroke-width="2" stroke-dasharray="2 4"/>
<line x1="750.92" y1="1470.1" x2="789.68" y2="1470.1" stroke="#000000" stroke-width="2" stroke-dasharray="2 4"/>
<circle cx="770.3" cy="1384.6" r="5" fill="#000000"/>
<circle cx="770.3" cy="1410" r="5" fill="#000000"/>
<circle cx="770.3" cy="1444" r="5" fill="#000000"/>
<circle cx="770.3" cy="1461.6" r="5" fill="#000000"/>
<circle cx="770.3" cy="1478.7" r="5" fill="#000000"/>
<path d="M833.9 1517.5 H851.9 C851.57 1518.92 848.07 1521.42 849.9 1526 C851.73 1530.58 860.4 1540.67 862.9 1545 C865.4 1549.33 865.9 1549.27 864.9 1552 C863.9 1554.73 858.23 1559.83 856.9 1561.4 H828.9 C827.57 1559.83 821.9 1554.73 820.9 1552 C819.9 1549.27 820.4 1549.33 822.9 1545 C825.4 1540.67 834.07 1530.58 835.9 1526 C837.73 1521.42 834.23 1518.92 833.9 1517.5 Z" fill="none" stroke="#FF0A6A" stroke-width="2.2" stroke-linejoin="round"/>
<line x1="824.5" y1="1546.4" x2="861.3" y2="1546.4" stroke="#FF0A6A" stroke-width="2" stroke-dasharray="5 3.5"/>
<line x1="835.85" y1="1529" x2="849.95" y2="1529" stroke="#FF0A6A" stroke-width="2" stroke-dasharray="2 4"/>
<line x1="825.03" y1="1554.5" x2="860.77" y2="1554.5" stroke="#FF0A6A" stroke-width="2" stroke-dasharray="2 4"/>
<rect x="837.9" y="1512.1" width="10" height="10" fill="#FF0A6A"/>
<rect x="818.7" y="1533.3" width="10" height="10" fill="#FF0A6A"/>
<rect x="837.9" y="1541.4" width="10" height="10" fill="#FF0A6A"/>
<rect x="856.9" y="1541" width="10" height="10" fill="#FF0A6A"/>
<rect x="837.9" y="1555.3" width="10" height="10" fill="#FF0A6A"/>
<path d="M892.3 1475.9 H938.3 C937.8 1476.75 937.02 1477.92 935.3 1481 C933.58 1484.08 928 1490.07 928 1494.4 C928 1498.73 933.92 1503.92 935.3 1507 C936.68 1510.08 936.13 1511.92 936.3 1512.9 H894.3 C894.47 1511.92 893.92 1510.08 895.3 1507 C896.68 1503.92 902.6 1498.73 902.6 1494.4 C902.6 1490.07 897.02 1484.08 895.3 1481 C893.58 1477.92 892.8 1476.75 892.3 1475.9 Z" fill="none" stroke="#168282" stroke-width="2.2" stroke-linejoin="round"/>
<line x1="902.09" y1="1489.8" x2="928.51" y2="1489.8" stroke="#168282" stroke-width="2" stroke-dasharray="5 3.5"/>
<line x1="895.65" y1="1478.2" x2="934.95" y2="1478.2" stroke="#168282" stroke-width="2" stroke-dasharray="2 4"/>
<line x1="896.89" y1="1509.4" x2="933.71" y2="1509.4" stroke="#168282" stroke-width="2" stroke-dasharray="2 4"/>
<polygon points="891.3,1481.09 902.3,1481.09 896.8,1471.51" fill="#168282"/>
<polygon points="909.8,1482.99 920.8,1482.99 915.3,1473.41" fill="#168282"/>
<polygon points="908.6,1494.59 919.6,1494.59 914.1,1485.01" fill="#168282"/>
<polygon points="930.6,1509.59 941.6,1509.59 936.1,1500.01" fill="#168282"/>
<polygon points="891.3,1518.79 902.3,1518.79 896.8,1509.21" fill="#168282"/>
<path d="M980.1 1466.6 H996.1 C995.77 1467.5 992.6 1468.43 994.1 1472 C995.6 1475.57 1002.43 1483.83 1005.1 1488 C1007.77 1492.17 1009.6 1494.58 1010.1 1497 C1010.6 1499.42 1008.43 1501.58 1008.1 1502.5 H968.1 C967.77 1501.58 965.6 1499.42 966.1 1497 C966.6 1494.58 968.43 1492.17 971.1 1488 C973.77 1483.83 980.6 1475.57 982.1 1472 C983.6 1468.43 980.43 1467.5 980.1 1466.6 Z" fill="none" stroke="#47097F" stroke-width="2.2" stroke-linejoin="round"/>
<line x1="968.43" y1="1497.9" x2="1007.77" y2="1497.9" stroke="#47097F" stroke-width="2" stroke-dasharray="5 3.5"/>
<line x1="983" y1="1473.6" x2="993.2" y2="1473.6" stroke="#47097F" stroke-width="2" stroke-dasharray="2 4"/>
<line x1="969.66" y1="1501.3" x2="1006.54" y2="1501.3" stroke="#47097F" stroke-width="2" stroke-dasharray="2 4"/>
<polygon points="982.6,1461.81 993.6,1461.81 988.1,1471.38" fill="#47097F"/>
<polygon points="982.6,1480.31 993.6,1480.31 988.1,1489.88" fill="#47097F"/>
<polygon points="982.6,1491.91 993.6,1491.91 988.1,1501.49" fill="#47097F"/>
<polygon points="965.3,1495.41 976.3,1495.41 970.8,1504.99" fill="#47097F"/>
<polygon points="1002.3,1494.21 1013.3,1494.21 1007.8,1503.79" fill="#47097F"/>
<text x="587.58" y="1695.1" font-size="57.38" font-weight="bold" fill="#000" textLength="16.19" lengthAdjust="spacingAndGlyphs" stroke="#000" stroke-width="1.1">i</text>
<line x1="722.7" y1="1676.85" x2="722.7" y2="1986.5" stroke="#000" stroke-width="2.8"/>
<line x1="709.3" y1="1986.5" x2="722.7" y2="1986.5" stroke="#000" stroke-width="2.8"/>
<text x="692.45" y="1995.07" font-size="24.9" font-weight="bold" fill="#000">0</text>
<line x1="709.3" y1="1883.75" x2="722.7" y2="1883.75" stroke="#000" stroke-width="2.8"/>
<text x="692.13" y="1892.32" font-size="24.9" font-weight="bold" fill="#000">5</text>
<line x1="709.3" y1="1781" x2="722.7" y2="1781" stroke="#000" stroke-width="2.8"/>
<text x="678.61" y="1789.57" font-size="24.9" font-weight="bold" fill="#000">10</text>
<line x1="709.3" y1="1678.25" x2="722.7" y2="1678.25" stroke="#000" stroke-width="2.8"/>
<text x="678.28" y="1686.82" font-size="24.9" font-weight="bold" fill="#000">15</text>
<line x1="709.3" y1="1986.5" x2="1038.2" y2="1986.5" stroke="#000" stroke-width="2.8"/>
<line x1="770.3" y1="1986.5" x2="770.3" y2="1999.2" stroke="#000" stroke-width="2.8"/>
<line x1="842.9" y1="1986.5" x2="842.9" y2="1999.2" stroke="#000" stroke-width="2.8"/>
<line x1="915.3" y1="1986.5" x2="915.3" y2="1999.2" stroke="#000" stroke-width="2.8"/>
<line x1="988.1" y1="1986.5" x2="988.1" y2="1999.2" stroke="#000" stroke-width="2.8"/>
<text x="-0.71" y="0" font-size="31.7" font-weight="bold" textLength="290.91" lengthAdjust="spacingAndGlyphs" transform="translate(662.8 1977.2) rotate(-90)">% IL-17<tspan font-size="22.82" dy="-12.68">+</tspan><tspan dy="12.68"> Th17 in LPL</tspan></text>
<text x="784.6" y="1670.21" font-size="34.91" font-weight="bold" stroke="#000" stroke-width="0.9" style="font-family:'DejaVu Sans',sans-serif">*</text>
<text x="806.47" y="1670.21" font-size="34.91" font-weight="bold" stroke="#000" stroke-width="0.9" style="font-family:'DejaVu Sans',sans-serif">*</text>
<text x="828.34" y="1670.21" font-size="34.91" font-weight="bold" stroke="#000" stroke-width="0.9" style="font-family:'DejaVu Sans',sans-serif">*</text>
<text x="748.99" y="1694" font-size="29.23" font-weight="normal" fill="#000" textLength="131.98" lengthAdjust="spacingAndGlyphs">p=0.0002</text>
<path d="M770.3 1724 V1708.6 H860.5 V1724" fill="none" stroke="#000" stroke-width="3" stroke-linejoin="round"/>
<path d="M908.3 1806.1 V1790.6 H996.2 V1806.1" fill="none" stroke="#000" stroke-width="3" stroke-linejoin="round"/>
<text x="935.07" y="1776" font-size="28.98" font-weight="normal" fill="#000" textLength="34.1" lengthAdjust="spacingAndGlyphs">ns</text>
<path d="M759.9 1773.8 H780.7 C779.47 1775.33 771.2 1778.18 773.3 1783 C775.4 1787.82 790.47 1798.03 793.3 1802.7 C796.13 1807.37 791.8 1808.32 790.3 1811 C788.8 1813.68 785.3 1817.5 784.3 1818.8 H756.3 C755.3 1817.5 751.8 1813.68 750.3 1811 C748.8 1808.32 744.47 1807.37 747.3 1802.7 C750.13 1798.03 765.2 1787.82 767.3 1783 C769.4 1778.18 761.13 1775.33 759.9 1773.8 Z" fill="none" stroke="#000000" stroke-width="2.2" stroke-linejoin="round"/>
<line x1="749.3" y1="1802.7" x2="791.3" y2="1802.7" stroke="#000000" stroke-width="2" stroke-dasharray="5 3.5"/>
<line x1="766.48" y1="1779.5" x2="774.12" y2="1779.5" stroke="#000000" stroke-width="2" stroke-dasharray="2 4"/>
<line x1="754.76" y1="1814.2" x2="785.84" y2="1814.2" stroke="#000000" stroke-width="2" stroke-dasharray="2 4"/>
<circle cx="770.3" cy="1773.3" r="5" fill="#000000"/>
<circle cx="750.6" cy="1797.6" r="5" fill="#000000"/>
<circle cx="789.9" cy="1802.7" r="5" fill="#000000"/>
<circle cx="770.3" cy="1809.6" r="5" fill="#000000"/>
<circle cx="770.3" cy="1820" r="5" fill="#000000"/>
<path d="M832.9 1899.8 H852.9 C852.07 1901.17 846.23 1903.8 847.9 1908 C849.57 1912.2 860.07 1921.67 862.9 1925 C865.73 1928.33 865.23 1926.35 864.9 1928 C864.57 1929.65 861.57 1933.75 860.9 1934.9 H824.9 C824.23 1933.75 821.23 1929.65 820.9 1928 C820.57 1926.35 820.07 1928.33 822.9 1925 C825.73 1921.67 836.23 1912.2 837.9 1908 C839.57 1903.8 833.73 1901.17 832.9 1899.8 Z" fill="none" stroke="#FF0A6A" stroke-width="2.2" stroke-linejoin="round"/>
<line x1="824.77" y1="1925.2" x2="861.03" y2="1925.2" stroke="#FF0A6A" stroke-width="2" stroke-dasharray="5 3.5"/>
<line x1="839.11" y1="1906.7" x2="846.69" y2="1906.7" stroke="#FF0A6A" stroke-width="2" stroke-dasharray="2 4"/>
<line x1="823.94" y1="1929.8" x2="861.86" y2="1929.8" stroke="#FF0A6A" stroke-width="2" stroke-dasharray="2 4"/>
<rect x="837.9" y="1893.6" width="10" height="10" fill="#FF0A6A"/>
<rect x="837.9" y="1907" width="10" height="10" fill="#FF0A6A"/>
<rect x="837.9" y="1917" width="10" height="10" fill="#FF0A6A"/>
<rect x="856.9" y="1922.5" width="10" height="10" fill="#FF0A6A"/>
<rect x="818.2" y="1929.5" width="10" height="10" fill="#FF0A6A"/>
<path d="M893.3 1839.7 H937.3 C937.3 1842 938.3 1849.28 937.3 1853.5 C936.3 1857.72 932.63 1860.18 931.3 1865 C929.97 1869.82 929.63 1879.5 929.3 1882.4 H901.3 C900.97 1879.5 900.63 1869.82 899.3 1865 C897.97 1860.18 894.3 1857.72 893.3 1853.5 C892.3 1849.28 893.3 1842 893.3 1839.7 Z" fill="none" stroke="#168282" stroke-width="2.2" stroke-linejoin="round"/>
<line x1="895.93" y1="1854.7" x2="934.67" y2="1854.7" stroke="#168282" stroke-width="2" stroke-dasharray="5 3.5"/>
<line x1="895.3" y1="1846.6" x2="935.3" y2="1846.6" stroke="#168282" stroke-width="2" stroke-dasharray="2 4"/>
<line x1="902.51" y1="1875.5" x2="928.09" y2="1875.5" stroke="#168282" stroke-width="2" stroke-dasharray="2 4"/>
<polygon points="929.5,1845.59 940.5,1845.59 935,1836.01" fill="#168282"/>
<polygon points="909.8,1859.49 920.8,1859.49 915.3,1849.91" fill="#168282"/>
<polygon points="929.5,1859.49 940.5,1859.49 935,1849.91" fill="#168282"/>
<polygon points="909.8,1874.49 920.8,1874.49 915.3,1864.91" fill="#168282"/>
<polygon points="909.8,1888.38 920.8,1888.38 915.3,1878.81" fill="#168282"/>
<path d="M966.1 1835 H1010.1 C1009.77 1836.67 1011.1 1840.37 1008.1 1845 C1005.1 1849.63 993.93 1858.1 992.1 1862.8 C990.27 1867.5 996.27 1871.47 997.1 1873.2 H979.1 C979.93 1871.47 985.93 1867.5 984.1 1862.8 C982.27 1858.1 971.1 1849.63 968.1 1845 C965.1 1840.37 966.43 1836.67 966.1 1835 Z" fill="none" stroke="#47097F" stroke-width="2.2" stroke-linejoin="round"/>
<line x1="969.96" y1="1844.3" x2="1006.24" y2="1844.3" stroke="#47097F" stroke-width="2" stroke-dasharray="5 3.5"/>
<line x1="968.2" y1="1835.5" x2="1008" y2="1835.5" stroke="#47097F" stroke-width="2" stroke-dasharray="2 4"/>
<polygon points="982.6,1829.12 993.6,1829.12 988.1,1838.69" fill="#47097F"/>
<polygon points="1002.3,1827.91 1013.3,1827.91 1007.8,1837.49" fill="#47097F"/>
<polygon points="982.6,1839.51 993.6,1839.51 988.1,1849.09" fill="#47097F"/>
<polygon points="1001.1,1838.31 1012.1,1838.31 1006.6,1847.88" fill="#47097F"/>
<polygon points="982.6,1867.21 993.6,1867.21 988.1,1876.79" fill="#47097F"/>
<text x="1007.98" y="1292.69" font-size="58.2" font-weight="bold" fill="#000" textLength="18.73" lengthAdjust="spacingAndGlyphs" stroke="#000" stroke-width="1.1">j</text>
<line x1="1171.4" y1="1321.8" x2="1171.4" y2="1626.2" stroke="#000" stroke-width="2.8"/>
<line x1="1159.5" y1="1626.2" x2="1171.4" y2="1626.2" stroke="#000" stroke-width="2.8"/>
<text x="1143.55" y="1634.77" font-size="24.9" font-weight="bold" fill="#000">0</text>
<line x1="1159.5" y1="1550.45" x2="1171.4" y2="1550.45" stroke="#000" stroke-width="2.8"/>
<text x="1143.23" y="1559.02" font-size="24.9" font-weight="bold" fill="#000">5</text>
<line x1="1159.5" y1="1474.7" x2="1171.4" y2="1474.7" stroke="#000" stroke-width="2.8"/>
<text x="1129.71" y="1483.27" font-size="24.9" font-weight="bold" fill="#000">10</text>
<line x1="1159.5" y1="1398.95" x2="1171.4" y2="1398.95" stroke="#000" stroke-width="2.8"/>
<text x="1129.38" y="1407.52" font-size="24.9" font-weight="bold" fill="#000">15</text>
<line x1="1159.5" y1="1323.2" x2="1171.4" y2="1323.2" stroke="#000" stroke-width="2.8"/>
<text x="1129.71" y="1331.77" font-size="24.9" font-weight="bold" fill="#000">20</text>
<line x1="1159.5" y1="1626.2" x2="1470.2" y2="1626.2" stroke="#000" stroke-width="2.8"/>
<line x1="1216.9" y1="1626.2" x2="1216.9" y2="1638.9" stroke="#000" stroke-width="2.8"/>
<line x1="1286" y1="1626.2" x2="1286" y2="1638.9" stroke="#000" stroke-width="2.8"/>
<line x1="1354.5" y1="1626.2" x2="1354.5" y2="1638.9" stroke="#000" stroke-width="2.8"/>
<line x1="1423.1" y1="1626.2" x2="1423.1" y2="1638.9" stroke="#000" stroke-width="2.8"/>
<text x="-0.7" y="0" font-size="30.5" font-weight="bold" textLength="308" lengthAdjust="spacingAndGlyphs" transform="translate(1115.6 1628.1) rotate(-90)">% Foxp3<tspan font-size="21.96" dy="-12.2">+</tspan><tspan dy="12.2"> Treg in MLN</tspan></text>
<text x="1213.25" y="1261.85" font-size="32.54" font-weight="bold" stroke="#000" stroke-width="0.9" style="font-family:'DejaVu Sans',sans-serif">*</text>
<text x="1233.69" y="1261.85" font-size="32.54" font-weight="bold" stroke="#000" stroke-width="0.9" style="font-family:'DejaVu Sans',sans-serif">*</text>
<text x="1254.13" y="1261.85" font-size="32.54" font-weight="bold" stroke="#000" stroke-width="0.9" style="font-family:'DejaVu Sans',sans-serif">*</text>
<text x="1179.6" y="1285.1" font-size="28.08" font-weight="normal" fill="#000" textLength="124.51" lengthAdjust="spacingAndGlyphs">p=0.0005</text>
<path d="M1199.3 1315.2 V1300.6 H1284.4 V1315.2" fill="none" stroke="#000" stroke-width="3" stroke-linejoin="round"/>
<path d="M1345.2 1361.4 V1346.4 H1428.2 V1361.4" fill="none" stroke="#000" stroke-width="3" stroke-linejoin="round"/>
<text x="1370.73" y="1330.7" font-size="28.98" font-weight="normal" fill="#000" textLength="31.55" lengthAdjust="spacingAndGlyphs">ns</text>
<path d="M1194.9 1500.9 H1238.9 C1238.07 1501.75 1235.65 1503.62 1233.9 1506 C1232.15 1508.38 1228.07 1511.53 1228.4 1515.2 C1228.73 1518.87 1234.32 1524.53 1235.9 1528 C1237.48 1531.47 1237.57 1534.67 1237.9 1536 H1195.9 C1196.23 1534.67 1196.32 1531.47 1197.9 1528 C1199.48 1524.53 1205.07 1518.87 1205.4 1515.2 C1205.73 1511.53 1201.65 1508.38 1199.9 1506 C1198.15 1503.62 1195.73 1501.75 1194.9 1500.9 Z" fill="none" stroke="#000000" stroke-width="2.2" stroke-linejoin="round"/>
<line x1="1204" y1="1521" x2="1229.8" y2="1521" stroke="#000000" stroke-width="2" stroke-dasharray="5 3.5"/>
<line x1="1198.47" y1="1502.5" x2="1235.33" y2="1502.5" stroke="#000000" stroke-width="2" stroke-dasharray="2 4"/>
<line x1="1198.78" y1="1532.5" x2="1235.03" y2="1532.5" stroke="#000000" stroke-width="2" stroke-dasharray="2 4"/>
<circle cx="1198.8" cy="1500.2" r="5" fill="#000000"/>
<circle cx="1216.9" cy="1503.2" r="5" fill="#000000"/>
<circle cx="1216.9" cy="1521" r="5" fill="#000000"/>
<circle cx="1235.8" cy="1531.4" r="5" fill="#000000"/>
<circle cx="1198.8" cy="1536" r="5" fill="#000000"/>
<path d="M1266.4 1343.6 H1305.6 C1305.5 1345.5 1305.93 1351.1 1305 1355 C1304.07 1358.9 1299.67 1362 1300 1367 C1300.33 1372 1305.83 1380.92 1307 1385 C1308.17 1389.08 1307 1390.42 1307 1391.5 H1265 C1265 1390.42 1263.83 1389.08 1265 1385 C1266.17 1380.92 1271.67 1372 1272 1367 C1272.33 1362 1267.93 1358.9 1267 1355 C1266.07 1351.1 1266.5 1345.5 1266.4 1343.6 Z" fill="none" stroke="#FF0A6A" stroke-width="2.2" stroke-linejoin="round"/>
<line x1="1273.92" y1="1367.2" x2="1298.08" y2="1367.2" stroke="#FF0A6A" stroke-width="2" stroke-dasharray="5 3.5"/>
<line x1="1268.67" y1="1348.7" x2="1303.33" y2="1348.7" stroke="#FF0A6A" stroke-width="2" stroke-dasharray="2 4"/>
<line x1="1267" y1="1388" x2="1305" y2="1388" stroke="#FF0A6A" stroke-width="2" stroke-dasharray="2 4"/>
<rect x="1281" y="1336.8" width="10" height="10" fill="#FF0A6A"/>
<rect x="1281" y="1343.7" width="10" height="10" fill="#FF0A6A"/>
<rect x="1281" y="1362.2" width="10" height="10" fill="#FF0A6A"/>
<rect x="1299.7" y="1378.9" width="10" height="10" fill="#FF0A6A"/>
<rect x="1262.7" y="1385.3" width="10" height="10" fill="#FF0A6A"/>
<path d="M1341.8 1422.7 H1367.2 C1367.42 1423.92 1366.95 1425.75 1368.5 1430 C1370.05 1434.25 1376.17 1442.37 1376.5 1448.2 C1376.83 1454.03 1371.83 1460.47 1370.5 1465 C1369.17 1469.53 1368.83 1473.67 1368.5 1475.4 H1340.5 C1340.17 1473.67 1339.83 1469.53 1338.5 1465 C1337.17 1460.47 1332.17 1454.03 1332.5 1448.2 C1332.83 1442.37 1338.95 1434.25 1340.5 1430 C1342.05 1425.75 1341.58 1423.92 1341.8 1422.7 Z" fill="none" stroke="#168282" stroke-width="2.2" stroke-linejoin="round"/>
<line x1="1334.5" y1="1448.2" x2="1374.5" y2="1448.2" stroke="#168282" stroke-width="2" stroke-dasharray="5 3.5"/>
<line x1="1341.45" y1="1432.4" x2="1367.55" y2="1432.4" stroke="#168282" stroke-width="2" stroke-dasharray="2 4"/>
<line x1="1341.04" y1="1467.8" x2="1367.96" y2="1467.8" stroke="#168282" stroke-width="2" stroke-dasharray="2 4"/>
<polygon points="1349,1426.38 1360,1426.38 1354.5,1416.81" fill="#168282"/>
<polygon points="1367.3,1445.99 1378.3,1445.99 1372.8,1436.41" fill="#168282"/>
<polygon points="1349,1452.99 1360,1452.99 1354.5,1443.41" fill="#168282"/>
<polygon points="1349,1464.49 1360,1464.49 1354.5,1454.91" fill="#168282"/>
<polygon points="1349,1480.69 1360,1480.69 1354.5,1471.12" fill="#168282"/>
<path d="M1401.2 1406.5 H1445.2 C1444.7 1407.42 1444.9 1408.53 1442.2 1412 C1439.5 1415.47 1429 1422.3 1429 1427.3 C1429 1432.3 1439.5 1436.6 1442.2 1442 C1444.9 1447.4 1444.7 1456.75 1445.2 1459.7 H1401.2 C1401.7 1456.75 1401.5 1447.4 1404.2 1442 C1406.9 1436.6 1417.4 1432.3 1417.4 1427.3 C1417.4 1422.3 1406.9 1415.47 1404.2 1412 C1401.5 1408.53 1401.7 1407.42 1401.2 1406.5 Z" fill="none" stroke="#47097F" stroke-width="2.2" stroke-linejoin="round"/>
<line x1="1405.74" y1="1444.7" x2="1440.66" y2="1444.7" stroke="#47097F" stroke-width="2" stroke-dasharray="5 3.5"/>
<line x1="1404.45" y1="1408.8" x2="1441.95" y2="1408.8" stroke="#47097F" stroke-width="2" stroke-dasharray="2 4"/>
<line x1="1404.18" y1="1453.9" x2="1442.22" y2="1453.9" stroke="#47097F" stroke-width="2" stroke-dasharray="2 4"/>
<polygon points="1399.5,1399.01 1410.5,1399.01 1405,1408.59" fill="#47097F"/>
<polygon points="1436.9,1404.51 1447.9,1404.51 1442.4,1414.09" fill="#47097F"/>
<polygon points="1436.9,1437.62 1447.9,1437.62 1442.4,1447.19" fill="#47097F"/>
<polygon points="1417.7,1441.01 1428.7,1441.01 1423.2,1450.59" fill="#47097F"/>
<polygon points="1417.7,1453.81 1428.7,1453.81 1423.2,1463.38" fill="#47097F"/>
<text x="1020.55" y="1703.2" font-size="58.9" font-weight="bold" fill="#000" textLength="30.25" lengthAdjust="spacingAndGlyphs" stroke="#000" stroke-width="1.1">k</text>
<line x1="1176.9" y1="1669.6" x2="1176.9" y2="1983" stroke="#000" stroke-width="2.8"/>
<line x1="1161.8" y1="1983" x2="1176.9" y2="1983" stroke="#000" stroke-width="2.8"/>
<text x="1145.23" y="1991.57" font-size="24.9" font-weight="bold" fill="#000">5</text>
<line x1="1161.8" y1="1920.6" x2="1176.9" y2="1920.6" stroke="#000" stroke-width="2.8"/>
<text x="1131.71" y="1929.17" font-size="24.9" font-weight="bold" fill="#000">10</text>
<line x1="1161.8" y1="1858.2" x2="1176.9" y2="1858.2" stroke="#000" stroke-width="2.8"/>
<text x="1131.38" y="1866.77" font-size="24.9" font-weight="bold" fill="#000">15</text>
<line x1="1161.8" y1="1795.8" x2="1176.9" y2="1795.8" stroke="#000" stroke-width="2.8"/>
<text x="1131.71" y="1804.37" font-size="24.9" font-weight="bold" fill="#000">20</text>
<line x1="1161.8" y1="1733.4" x2="1176.9" y2="1733.4" stroke="#000" stroke-width="2.8"/>
<text x="1131.38" y="1741.97" font-size="24.9" font-weight="bold" fill="#000">25</text>
<line x1="1161.8" y1="1671" x2="1176.9" y2="1671" stroke="#000" stroke-width="2.8"/>
<text x="1131.71" y="1679.57" font-size="24.9" font-weight="bold" fill="#000">30</text>
<line x1="1161.8" y1="1983" x2="1494.6" y2="1983" stroke="#000" stroke-width="2.8"/>
<line x1="1224.3" y1="1983" x2="1224.3" y2="1995.7" stroke="#000" stroke-width="2.8"/>
<line x1="1297.1" y1="1983" x2="1297.1" y2="1995.7" stroke="#000" stroke-width="2.8"/>
<line x1="1371.1" y1="1983" x2="1371.1" y2="1995.7" stroke="#000" stroke-width="2.8"/>
<line x1="1444.5" y1="1983" x2="1444.5" y2="1995.7" stroke="#000" stroke-width="2.8"/>
<text x="-0.72" y="0" font-size="30.5" font-weight="bold" textLength="308.72" lengthAdjust="spacingAndGlyphs" transform="translate(1115.6 1983) rotate(-90)">% Foxp3<tspan font-size="21.96" dy="-12.2">+</tspan><tspan dy="12.2"> Treg in LPL</tspan></text>
<text x="1220.15" y="1667.25" font-size="32.54" font-weight="bold" stroke="#000" stroke-width="0.9" style="font-family:'DejaVu Sans',sans-serif">*</text>
<text x="1242.69" y="1667.25" font-size="32.54" font-weight="bold" stroke="#000" stroke-width="0.9" style="font-family:'DejaVu Sans',sans-serif">*</text>
<text x="1265.23" y="1667.25" font-size="32.54" font-weight="bold" stroke="#000" stroke-width="0.9" style="font-family:'DejaVu Sans',sans-serif">*</text>
<text x="1184.11" y="1691.7" font-size="29.66" font-weight="normal" fill="#000" textLength="130.68" lengthAdjust="spacingAndGlyphs">p=0.0001</text>
<path d="M1204.6 1722.9 V1707.9 H1296 V1722.9" fill="none" stroke="#000" stroke-width="3" stroke-linejoin="round"/>
<path d="M1368.8 1811.6 V1795.5 H1457.2 V1811.6" fill="none" stroke="#000" stroke-width="3" stroke-linejoin="round"/>
<text x="1396.51" y="1781.3" font-size="28.98" font-weight="normal" fill="#000" textLength="33.43" lengthAdjust="spacingAndGlyphs">ns</text>
<path d="M1204.7 1897.5 H1243.9 C1244.47 1900 1249.07 1908.42 1247.3 1912.5 C1245.53 1916.58 1235.2 1919.3 1233.3 1922 C1231.4 1924.7 1235.47 1927.58 1235.9 1928.7 H1212.7 C1213.13 1927.58 1217.2 1924.7 1215.3 1922 C1213.4 1919.3 1203.07 1916.58 1201.3 1912.5 C1199.53 1908.42 1204.13 1900 1204.7 1897.5 Z" fill="none" stroke="#000000" stroke-width="2.2" stroke-linejoin="round"/>
<line x1="1203.3" y1="1912.5" x2="1245.3" y2="1912.5" stroke="#000000" stroke-width="2" stroke-dasharray="5 3.5"/>
<line x1="1206.18" y1="1899.8" x2="1242.42" y2="1899.8" stroke="#000000" stroke-width="2" stroke-dasharray="2 4"/>
<line x1="1216.86" y1="1921.7" x2="1231.74" y2="1921.7" stroke="#000000" stroke-width="2" stroke-dasharray="2 4"/>
<circle cx="1224.3" cy="1890.5" r="5" fill="#000000"/>
<circle cx="1204.6" cy="1905.5" r="5" fill="#000000"/>
<circle cx="1245" cy="1912.5" r="5" fill="#000000"/>
<circle cx="1224.3" cy="1914.8" r="5" fill="#000000"/>
<circle cx="1224.3" cy="1928.7" r="5" fill="#000000"/>
<path d="M1275.1 1746 H1319.1 C1318.93 1747.67 1321.27 1751.95 1318.1 1756 C1314.93 1760.05 1301.67 1766.1 1300.1 1770.3 C1298.53 1774.5 1307.27 1779.38 1308.7 1781.2 H1285.5 C1286.93 1779.38 1295.67 1774.5 1294.1 1770.3 C1292.53 1766.1 1279.27 1760.05 1276.1 1756 C1272.93 1751.95 1275.27 1747.67 1275.1 1746 Z" fill="none" stroke="#FF0A6A" stroke-width="2.2" stroke-linejoin="round"/>
<line x1="1281.5" y1="1758.7" x2="1312.7" y2="1758.7" stroke="#FF0A6A" stroke-width="2" stroke-dasharray="5 3.5"/>
<line x1="1277.56" y1="1750.6" x2="1316.64" y2="1750.6" stroke="#FF0A6A" stroke-width="2" stroke-dasharray="2 4"/>
<line x1="1296.1" y1="1770.3" x2="1298.1" y2="1770.3" stroke="#FF0A6A" stroke-width="2" stroke-dasharray="2 4"/>
<rect x="1293.3" y="1743.3" width="10" height="10" fill="#FF0A6A"/>
<rect x="1312.9" y="1741" width="10" height="10" fill="#FF0A6A"/>
<rect x="1272.5" y="1753.7" width="10" height="10" fill="#FF0A6A"/>
<rect x="1312.9" y="1753.7" width="10" height="10" fill="#FF0A6A"/>
<rect x="1293.3" y="1775.7" width="10" height="10" fill="#FF0A6A"/>
<path d="M1353.4 1840 H1388.8 C1388.68 1841 1389.05 1843.73 1388.1 1846 C1387.15 1848.27 1381.93 1850.6 1383.1 1853.6 C1384.27 1856.6 1393.43 1861.27 1395.1 1864 C1396.77 1866.73 1394.38 1868.17 1393.1 1870 C1391.82 1871.83 1388.35 1874.17 1387.4 1875 H1354.8 C1353.85 1874.17 1350.38 1871.83 1349.1 1870 C1347.82 1868.17 1345.43 1866.73 1347.1 1864 C1348.77 1861.27 1357.93 1856.6 1359.1 1853.6 C1360.27 1850.6 1355.05 1848.27 1354.1 1846 C1353.15 1843.73 1353.52 1841 1353.4 1840 Z" fill="none" stroke="#168282" stroke-width="2.2" stroke-linejoin="round"/>
<line x1="1351.75" y1="1861.7" x2="1390.45" y2="1861.7" stroke="#168282" stroke-width="2" stroke-dasharray="5 3.5"/>
<line x1="1355.83" y1="1843.7" x2="1386.37" y2="1843.7" stroke="#168282" stroke-width="2" stroke-dasharray="2 4"/>
<line x1="1351.33" y1="1870.2" x2="1390.87" y2="1870.2" stroke="#168282" stroke-width="2" stroke-dasharray="2 4"/>
<polygon points="1365.6,1845.19 1376.6,1845.19 1371.1,1835.62" fill="#168282"/>
<polygon points="1346.7,1853.19 1357.7,1853.19 1352.2,1843.62" fill="#168282"/>
<polygon points="1365.6,1866.99 1376.6,1866.99 1371.1,1857.41" fill="#168282"/>
<polygon points="1385.5,1871.69 1396.5,1871.69 1391,1862.12" fill="#168282"/>
<polygon points="1365.6,1880.69 1376.6,1880.69 1371.1,1871.12" fill="#168282"/>
<path d="M1421.1 1848.9 H1467.9 C1465.73 1850.32 1454.93 1854.23 1454.9 1857.4 C1454.87 1860.57 1467.03 1864.18 1467.7 1867.9 C1468.37 1871.62 1460.37 1877.73 1458.9 1879.7 H1430.1 C1428.63 1877.73 1420.63 1871.62 1421.3 1867.9 C1421.97 1864.18 1434.13 1860.57 1434.1 1857.4 C1434.07 1854.23 1423.27 1850.32 1421.1 1848.9 Z" fill="none" stroke="#47097F" stroke-width="2.2" stroke-linejoin="round"/>
<line x1="1426.84" y1="1865" x2="1462.16" y2="1865" stroke="#47097F" stroke-width="2" stroke-dasharray="5 3.5"/>
<line x1="1425.24" y1="1850.3" x2="1463.76" y2="1850.3" stroke="#47097F" stroke-width="2" stroke-dasharray="2 4"/>
<line x1="1428.59" y1="1875" x2="1460.41" y2="1875" stroke="#47097F" stroke-width="2" stroke-dasharray="2 4"/>
<polygon points="1419.1,1840.81 1430.1,1840.81 1424.6,1850.38" fill="#47097F"/>
<polygon points="1439,1843.21 1450,1843.21 1444.5,1852.79" fill="#47097F"/>
<polygon points="1458.4,1857.81 1469.4,1857.81 1463.9,1867.38" fill="#47097F"/>
<polygon points="1439,1862.62 1450,1862.62 1444.5,1872.19" fill="#47097F"/>
<polygon points="1439,1872.01 1450,1872.01 1444.5,1881.59" fill="#47097F"/>
<text x="1459.93" y="1293.2" font-size="60.55" font-weight="bold" fill="#000" textLength="15.19" lengthAdjust="spacingAndGlyphs" stroke="#000" stroke-width="1.1">l</text>
<line x1="1639" y1="1313.5" x2="1639" y2="1623" stroke="#000" stroke-width="2.8"/>
<line x1="1626.2" y1="1623" x2="1639" y2="1623" stroke="#000" stroke-width="2.8"/>
<text x="1587.98" y="1631.57" font-size="24.9" font-weight="bold" fill="#000">0.0</text>
<line x1="1626.2" y1="1520.3" x2="1639" y2="1520.3" stroke="#000" stroke-width="2.8"/>
<text x="1587.66" y="1528.87" font-size="24.9" font-weight="bold" fill="#000">0.5</text>
<line x1="1626.2" y1="1417.6" x2="1639" y2="1417.6" stroke="#000" stroke-width="2.8"/>
<text x="1587.98" y="1426.17" font-size="24.9" font-weight="bold" fill="#000">1.0</text>
<line x1="1626.2" y1="1314.9" x2="1639" y2="1314.9" stroke="#000" stroke-width="2.8"/>
<text x="1587.66" y="1323.47" font-size="24.9" font-weight="bold" fill="#000">1.5</text>
<line x1="1626.2" y1="1623" x2="1953.5" y2="1623" stroke="#000" stroke-width="2.8"/>
<line x1="1686.6" y1="1623" x2="1686.6" y2="1636.4" stroke="#000" stroke-width="2.8"/>
<line x1="1758.9" y1="1623" x2="1758.9" y2="1636.4" stroke="#000" stroke-width="2.8"/>
<line x1="1831.2" y1="1623" x2="1831.2" y2="1636.4" stroke="#000" stroke-width="2.8"/>
<line x1="1903.5" y1="1623" x2="1903.5" y2="1636.4" stroke="#000" stroke-width="2.8"/>
<text x="-0.33" y="0" font-size="31.7" font-weight="bold" textLength="334.43" lengthAdjust="spacingAndGlyphs" transform="translate(1576.6 1636.6) rotate(-90)">Th17/Treg Ratio in MLN</text>
<text x="1690.3" y="1298.31" font-size="34.91" font-weight="bold" stroke="#000" stroke-width="0.9" style="font-family:'DejaVu Sans',sans-serif">*</text>
<text x="1712.01" y="1298.31" font-size="34.91" font-weight="bold" stroke="#000" stroke-width="0.9" style="font-family:'DejaVu Sans',sans-serif">*</text>
<text x="1733.73" y="1298.31" font-size="34.91" font-weight="bold" stroke="#000" stroke-width="0.9" style="font-family:'DejaVu Sans',sans-serif">*</text>
<text x="1755.44" y="1298.31" font-size="34.91" font-weight="bold" stroke="#000" stroke-width="0.9" style="font-family:'DejaVu Sans',sans-serif">*</text>
<text x="1659.09" y="1322.1" font-size="30.95" font-weight="normal" fill="#000" textLength="142.06" lengthAdjust="spacingAndGlyphs">p &lt; 0.0001</text>
<path d="M1686.8 1352.2 V1337.2 H1777.2 V1352.2" fill="none" stroke="#000" stroke-width="3" stroke-linejoin="round"/>
<path d="M1827.8 1486 V1470.2 H1914.9 V1486" fill="none" stroke="#000" stroke-width="3" stroke-linejoin="round"/>
<text x="1855.21" y="1454.4" font-size="28.98" font-weight="normal" fill="#000" textLength="33.43" lengthAdjust="spacingAndGlyphs">ns</text>
<path d="M1674.6 1374.6 H1698.6 C1698.23 1378 1695.73 1387.43 1696.4 1395 C1697.07 1402.57 1700.28 1409.6 1702.6 1420 C1704.92 1430.4 1709.97 1446.57 1710.3 1457.4 C1710.63 1468.23 1706.23 1476.72 1704.6 1485 C1702.97 1493.28 1701.18 1503.42 1700.5 1507.1 H1672.7 C1672.02 1503.42 1670.23 1493.28 1668.6 1485 C1666.97 1476.72 1662.57 1468.23 1662.9 1457.4 C1663.23 1446.57 1668.28 1430.4 1670.6 1420 C1672.92 1409.6 1676.13 1402.57 1676.8 1395 C1677.47 1387.43 1674.97 1378 1674.6 1374.6 Z" fill="none" stroke="#000000" stroke-width="2.2" stroke-linejoin="round"/>
<line x1="1665.85" y1="1452.8" x2="1707.35" y2="1452.8" stroke="#000000" stroke-width="2" stroke-dasharray="5 3.5"/>
<line x1="1677.54" y1="1400.1" x2="1695.66" y2="1400.1" stroke="#000000" stroke-width="2" stroke-dasharray="2 4"/>
<line x1="1671.27" y1="1488.6" x2="1701.93" y2="1488.6" stroke="#000000" stroke-width="2" stroke-dasharray="2 4"/>
<circle cx="1686.6" cy="1374.6" r="5" fill="#000000"/>
<circle cx="1686.6" cy="1426.2" r="5" fill="#000000"/>
<circle cx="1686.6" cy="1452.8" r="5" fill="#000000"/>
<circle cx="1686.6" cy="1470.8" r="5" fill="#000000"/>
<circle cx="1686.6" cy="1507.1" r="5" fill="#000000"/>
<path d="M1750.3 1583.2 H1767.5 C1766.57 1584.67 1761.9 1588.93 1761.9 1592 C1761.9 1595.07 1766.57 1600 1767.5 1601.6 H1750.3 C1751.23 1600 1755.9 1595.07 1755.9 1592 C1755.9 1588.93 1751.23 1584.67 1750.3 1583.2 Z" fill="none" stroke="#FF0A6A" stroke-width="2.2" stroke-linejoin="round"/>
<line x1="1757.9" y1="1592" x2="1759.9" y2="1592" stroke="#FF0A6A" stroke-width="2" stroke-dasharray="5 3.5"/>
<rect x="1734.9" y="1585.7" width="10" height="10" fill="#FF0A6A"/>
<rect x="1734.9" y="1595.5" width="10" height="10" fill="#FF0A6A"/>
<rect x="1773.5" y="1577.6" width="10" height="10" fill="#FF0A6A"/>
<rect x="1773.5" y="1586.6" width="10" height="10" fill="#FF0A6A"/>
<rect x="1753.9" y="1586.7" width="10" height="10" fill="#FF0A6A"/>
<path d="M1807.9 1535 H1854.5 C1853.95 1536.67 1853.82 1540.83 1851.2 1545 C1848.58 1549.17 1840.38 1555.87 1838.8 1560 C1837.22 1564.13 1841.22 1568.17 1841.7 1569.8 H1820.7 C1821.18 1568.17 1825.18 1564.13 1823.6 1560 C1822.02 1555.87 1813.82 1549.17 1811.2 1545 C1808.58 1540.83 1808.45 1536.67 1807.9 1535 Z" fill="none" stroke="#168282" stroke-width="2.2" stroke-linejoin="round"/>
<line x1="1812.74" y1="1543.6" x2="1849.66" y2="1543.6" stroke="#168282" stroke-width="2" stroke-dasharray="5 3.5"/>
<line x1="1811.06" y1="1538.5" x2="1851.35" y2="1538.5" stroke="#168282" stroke-width="2" stroke-dasharray="2 4"/>
<line x1="1824.95" y1="1562.2" x2="1837.45" y2="1562.2" stroke="#168282" stroke-width="2" stroke-dasharray="2 4"/>
<polygon points="1807.8,1538.49 1818.8,1538.49 1813.3,1528.91" fill="#168282"/>
<polygon points="1825.7,1546.09 1836.7,1546.09 1831.2,1536.51" fill="#168282"/>
<polygon points="1845.7,1548.99 1856.7,1548.99 1851.2,1539.41" fill="#168282"/>
<polygon points="1825.7,1557.49 1836.7,1557.49 1831.2,1547.91" fill="#168282"/>
<polygon points="1825.7,1575.59 1836.7,1575.59 1831.2,1566.01" fill="#168282"/>
<path d="M1894.9 1530.8 H1912.1 C1911.17 1532.23 1903.93 1534.95 1906.5 1539.4 C1909.07 1543.85 1925.93 1552.48 1927.5 1557.5 C1929.07 1562.52 1917.83 1567.5 1915.9 1569.5 H1891.1 C1889.17 1567.5 1877.93 1562.52 1879.5 1557.5 C1881.07 1552.48 1897.93 1543.85 1900.5 1539.4 C1903.07 1534.95 1895.83 1532.23 1894.9 1530.8 Z" fill="none" stroke="#47097F" stroke-width="2.2" stroke-linejoin="round"/>
<line x1="1884.86" y1="1554.6" x2="1922.14" y2="1554.6" stroke="#47097F" stroke-width="2" stroke-dasharray="5 3.5"/>
<line x1="1884.21" y1="1560.3" x2="1922.79" y2="1560.3" stroke="#47097F" stroke-width="2" stroke-dasharray="2 4"/>
<polygon points="1898,1523.21 1909,1523.21 1903.5,1532.79" fill="#47097F"/>
<polygon points="1898,1548.91 1909,1548.91 1903.5,1558.49" fill="#47097F"/>
<polygon points="1878,1547.91 1889,1547.91 1883.5,1557.49" fill="#47097F"/>
<polygon points="1918,1553.62 1929,1553.62 1923.5,1563.19" fill="#47097F"/>
<polygon points="1898,1563.21 1909,1563.21 1903.5,1572.79" fill="#47097F"/>
<text x="1452.17" y="1692.4" font-size="60.3" font-weight="bold" fill="#000" textLength="55.12" lengthAdjust="spacingAndGlyphs" stroke="#000" stroke-width="1.1">m</text>
<line x1="1637.3" y1="1671.85" x2="1637.3" y2="1982.7" stroke="#000" stroke-width="2.8"/>
<line x1="1624.6" y1="1982.7" x2="1637.3" y2="1982.7" stroke="#000" stroke-width="2.8"/>
<text x="1587.98" y="1991.27" font-size="24.9" font-weight="bold" fill="#000">0.0</text>
<line x1="1624.6" y1="1879.55" x2="1637.3" y2="1879.55" stroke="#000" stroke-width="2.8"/>
<text x="1587.66" y="1888.12" font-size="24.9" font-weight="bold" fill="#000">0.5</text>
<line x1="1624.6" y1="1776.4" x2="1637.3" y2="1776.4" stroke="#000" stroke-width="2.8"/>
<text x="1587.98" y="1784.97" font-size="24.9" font-weight="bold" fill="#000">1.0</text>
<line x1="1624.6" y1="1673.25" x2="1637.3" y2="1673.25" stroke="#000" stroke-width="2.8"/>
<text x="1587.66" y="1681.82" font-size="24.9" font-weight="bold" fill="#000">1.5</text>
<line x1="1624.6" y1="1982.7" x2="1953.3" y2="1982.7" stroke="#000" stroke-width="2.8"/>
<line x1="1686.6" y1="1982.7" x2="1686.6" y2="1995.1" stroke="#000" stroke-width="2.8"/>
<line x1="1759" y1="1982.7" x2="1759" y2="1995.1" stroke="#000" stroke-width="2.8"/>
<line x1="1831.3" y1="1982.7" x2="1831.3" y2="1995.1" stroke="#000" stroke-width="2.8"/>
<line x1="1903.7" y1="1982.7" x2="1903.7" y2="1995.1" stroke="#000" stroke-width="2.8"/>
<text x="-0.33" y="0" font-size="31.7" font-weight="bold" textLength="328.13" lengthAdjust="spacingAndGlyphs" transform="translate(1576.6 1992.1) rotate(-90)">Th17/Treg Ratio in LPL</text>
<text x="1690.26" y="1673.95" font-size="36.85" font-weight="bold" stroke="#000" stroke-width="0.9" style="font-family:'DejaVu Sans',sans-serif">*</text>
<text x="1712.4" y="1673.95" font-size="36.85" font-weight="bold" stroke="#000" stroke-width="0.9" style="font-family:'DejaVu Sans',sans-serif">*</text>
<text x="1734.53" y="1673.95" font-size="36.85" font-weight="bold" stroke="#000" stroke-width="0.9" style="font-family:'DejaVu Sans',sans-serif">*</text>
<text x="1756.66" y="1673.95" font-size="36.85" font-weight="bold" stroke="#000" stroke-width="0.9" style="font-family:'DejaVu Sans',sans-serif">*</text>
<text x="1660.17" y="1695.3" font-size="30.95" font-weight="normal" fill="#000" textLength="143.08" lengthAdjust="spacingAndGlyphs">p &lt; 0.0001</text>
<path d="M1687.5 1726.3 V1711 H1777.6 V1726.3" fill="none" stroke="#000" stroke-width="3" stroke-linejoin="round"/>
<path d="M1825.4 1814.3 V1798.1 H1914 V1814.3" fill="none" stroke="#000" stroke-width="3" stroke-linejoin="round"/>
<text x="1852.96" y="1782.4" font-size="28.98" font-weight="normal" fill="#000" textLength="32.66" lengthAdjust="spacingAndGlyphs">ns</text>
<path d="M1677 1778 H1696.2 C1695.02 1779.97 1686.63 1783.9 1689.1 1789.8 C1691.57 1795.7 1708.95 1807.15 1711 1813.4 C1713.05 1819.65 1703 1824.98 1701.4 1827.3 H1671.8 C1670.2 1824.98 1660.15 1819.65 1662.2 1813.4 C1664.25 1807.15 1681.63 1795.7 1684.1 1789.8 C1686.57 1783.9 1678.18 1779.97 1677 1778 Z" fill="none" stroke="#000000" stroke-width="2.2" stroke-linejoin="round"/>
<line x1="1664.2" y1="1813.4" x2="1709" y2="1813.4" stroke="#000000" stroke-width="2" stroke-dasharray="5 3.5"/>
<line x1="1679.23" y1="1797.2" x2="1693.97" y2="1797.2" stroke="#000000" stroke-width="2" stroke-dasharray="2 4"/>
<line x1="1669.31" y1="1820.8" x2="1703.89" y2="1820.8" stroke="#000000" stroke-width="2" stroke-dasharray="2 4"/>
<circle cx="1686.6" cy="1777.1" r="5" fill="#000000"/>
<circle cx="1666.8" cy="1802.5" r="5" fill="#000000"/>
<circle cx="1686.6" cy="1814.9" r="5" fill="#000000"/>
<circle cx="1705.8" cy="1813.4" r="5" fill="#000000"/>
<circle cx="1686.6" cy="1826.7" r="5" fill="#000000"/>
<path d="M1747 1946 H1771 C1769.83 1947.17 1764 1950.67 1764 1953 C1764 1955.33 1769.83 1958.83 1771 1960 H1747 C1748.17 1958.83 1754 1955.33 1754 1953 C1754 1950.67 1748.17 1947.17 1747 1946 Z" fill="none" stroke="#FF0A6A" stroke-width="2.2" stroke-linejoin="round"/>
<line x1="1756" y1="1953" x2="1762" y2="1953" stroke="#FF0A6A" stroke-width="2" stroke-dasharray="5 3.5"/>
<rect x="1734.8" y="1942.8" width="10" height="10" fill="#FF0A6A"/>
<rect x="1734.8" y="1954.6" width="10" height="10" fill="#FF0A6A"/>
<rect x="1759.9" y="1950.2" width="10" height="10" fill="#FF0A6A"/>
<rect x="1774.6" y="1948.7" width="10" height="10" fill="#FF0A6A"/>
<rect x="1747" y="1948" width="10" height="10" fill="#FF0A6A"/>
<path d="M1822.4 1875.5 H1840.2 C1841.38 1878.75 1844.85 1888.6 1847.3 1895 C1849.75 1901.4 1853.63 1910.75 1854.9 1913.9 H1807.7 C1808.97 1910.75 1812.85 1901.4 1815.3 1895 C1817.75 1888.6 1821.22 1878.75 1822.4 1875.5 Z" fill="none" stroke="#168282" stroke-width="2.2" stroke-linejoin="round"/>
<line x1="1814.49" y1="1902" x2="1848.11" y2="1902" stroke="#168282" stroke-width="2" stroke-dasharray="5 3.5"/>
<line x1="1812.07" y1="1908" x2="1850.53" y2="1908" stroke="#168282" stroke-width="2" stroke-dasharray="2 4"/>
<polygon points="1825.8,1878.79 1836.8,1878.79 1831.3,1869.21" fill="#168282"/>
<polygon points="1825.8,1896.49 1836.8,1896.49 1831.3,1886.91" fill="#168282"/>
<polygon points="1825.8,1905.38 1836.8,1905.38 1831.3,1895.81" fill="#168282"/>
<polygon points="1806.6,1915.69 1817.6,1915.69 1812.1,1906.12" fill="#168282"/>
<polygon points="1845,1914.19 1856,1914.19 1850.5,1904.62" fill="#168282"/>
<path d="M1880.1 1874 H1927.3 C1925.7 1876 1920.97 1882.33 1917.7 1886 C1914.43 1889.67 1909.03 1893.57 1907.7 1896 C1906.37 1898.43 1909.37 1899.83 1909.7 1900.6 H1897.7 C1898.03 1899.83 1901.03 1898.43 1899.7 1896 C1898.37 1893.57 1892.97 1889.67 1889.7 1886 C1886.43 1882.33 1881.7 1876 1880.1 1874 Z" fill="none" stroke="#47097F" stroke-width="2.2" stroke-linejoin="round"/>
<line x1="1893" y1="1887.3" x2="1914.4" y2="1887.3" stroke="#47097F" stroke-width="2" stroke-dasharray="5 3.5"/>
<line x1="1886.82" y1="1879.9" x2="1920.58" y2="1879.9" stroke="#47097F" stroke-width="2" stroke-dasharray="2 4"/>
<polygon points="1890.8,1870.71 1901.8,1870.71 1896.3,1880.29" fill="#47097F"/>
<polygon points="1878.7,1879.51 1889.7,1879.51 1884.2,1889.09" fill="#47097F"/>
<polygon points="1905.3,1882.51 1916.3,1882.51 1910.8,1892.09" fill="#47097F"/>
<polygon points="1920.1,1878.01 1931.1,1878.01 1925.6,1887.59" fill="#47097F"/>
<polygon points="1890.8,1895.81 1901.8,1895.81 1896.3,1905.38" fill="#47097F"/>
<circle cx="624.8" cy="2036.2" r="14.3" fill="#000"/>
<rect x="919.4" y="2022.3" width="40.5" height="27.8" fill="#FF0A6A"/>
<polygon points="1296.9,2050.3 1357.2,2050.3 1327,2020.8" fill="#168282"/>
<polygon points="1594.9,2021.6 1654.3,2021.6 1624.6,2052" fill="#47097F"/>
<text x="687.17" y="2048.3" font-size="31.69" font-weight="bold" fill="#000" textLength="167.66" lengthAdjust="spacingAndGlyphs" stroke="#000" stroke-width="0.6">WT(DSS+Pg)</text>
<text x="994.77" y="2048.3" font-size="31.69" font-weight="bold" fill="#000" textLength="219.56" lengthAdjust="spacingAndGlyphs" stroke="#000" stroke-width="0.6">WT(DSS+Pg+LA)</text>
<text x="1373.92" y="2048.3" font-size="31.69" font-weight="bold" fill="#000" textLength="164.51" lengthAdjust="spacingAndGlyphs" stroke="#000" stroke-width="0.6">KO(DSS+Pg)</text>
<text x="1679.93" y="2048.3" font-size="31.69" font-weight="bold" fill="#000" textLength="214.59" lengthAdjust="spacingAndGlyphs" stroke="#000" stroke-width="0.6">KO(DSS+Pg+LA)</text>
</svg></body></html>
